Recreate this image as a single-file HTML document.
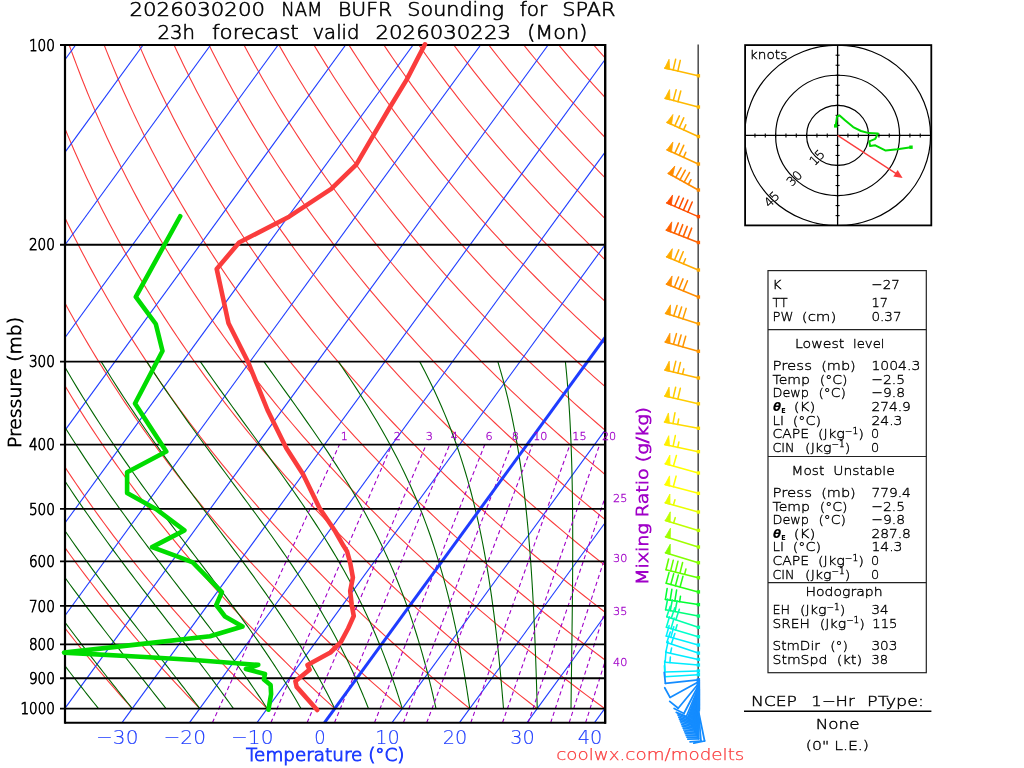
<!DOCTYPE html>
<html lang="en"><head><meta charset="utf-8"><title>NAM BUFR Sounding for SPAR</title>
<style>html,body{margin:0;padding:0;background:#fff;overflow:hidden}svg{display:block;will-change:transform}</style></head>
<body>
<svg width="1024" height="768" viewBox="0 0 1024 768" font-family="'DejaVu Sans Light', 'DejaVu Sans', 'Liberation Sans', sans-serif">
<rect width="1024" height="768" fill="#fff"/>
<defs><clipPath id="box"><rect x="65" y="45" width="540" height="677.66"/></clipPath>
<clipPath id="box2"><rect x="61" y="45" width="544" height="677.66"/></clipPath></defs>
<g clip-path="url(#box)" stroke-linecap="butt">
<polyline points="132.25,708.6 126.32,701.96 120.46,695.33 114.68,688.69 108.96,682.06 103.31,675.42 97.73,668.78 92.22,662.15 86.78,655.51 81.4,648.88 76.09,642.24 70.85,635.6 65.67,628.97 60.56,622.33 55.51,615.7 50.53,609.06 45.62,602.42 40.76,595.79 35.98,589.15 31.25,582.52 26.59,575.88 21.98,569.24 17.44,562.61 12.97,555.97 8.55,549.34 4.19,542.7 -0.1,536.06 -4.34,529.43 -8.51,522.79 -12.63,516.16 -16.69,509.52 -20.69,502.88 -24.63,496.25 -28.52,489.61 -32.35,482.98 -36.12,476.34 -39.83,469.7 -43.49,463.07 -47.09,456.43 -50.64,449.8 -54.13,443.16 -57.57,436.52 -60.96,429.89 -64.29,423.25 -67.56,416.62 -70.79,409.98 -73.96,403.34 -77.07,396.71 -80.14,390.07 -83.15,383.44 -86.12,376.8 -89.03,370.16 -91.89,363.53 -94.7,356.89 -97.46,350.26 -100.17,343.62 -102.83,336.98 -105.44,330.35 -108,323.71 -110.52,317.08 -112.99,310.44 -115.4,303.8 -117.77,297.17 -120.1,290.53 -122.37,283.9 -124.6,277.26 -126.79,270.62 -128.93,263.99 -131.02,257.35 -133.06,250.72 -135.07,244.08 -137.02,237.44 -138.93,230.81 -140.8,224.17 -142.63,217.54 -144.41,210.9 -146.14,204.26 -147.84,197.63 -149.49,190.99 -151.1,184.36 -152.66,177.72 -154.19,171.08 -155.67,164.45 -157.11,157.81 -158.51,151.18 -159.87,144.54 -161.19,137.9 -162.47,131.27 -163.7,124.63 -164.9,118 -166.06,111.36 -167.18,104.72 -168.26,98.09 -169.3,91.45 -170.31,84.82 -171.27,78.18 -172.2,71.54 -173.09,64.91 -173.94,58.27 -174.75,51.64 -175.53,45" fill="none" stroke="#fa3c3c" stroke-width="1.1" />
<polyline points="199.75,708.6 193.38,701.96 187.08,695.33 180.86,688.69 174.71,682.06 168.63,675.42 162.62,668.78 156.68,662.15 150.82,655.51 145.02,648.88 139.29,642.24 133.64,635.6 128.05,628.97 122.53,622.33 117.08,615.7 111.69,609.06 106.37,602.42 101.12,595.79 95.94,589.15 90.82,582.52 85.76,575.88 80.77,569.24 75.85,562.61 70.99,555.97 66.19,549.34 61.46,542.7 56.79,536.06 52.18,529.43 47.63,522.79 43.14,516.16 38.72,509.52 34.36,502.88 30.05,496.25 25.81,489.61 21.62,482.98 17.5,476.34 13.43,469.7 9.43,463.07 5.48,456.43 1.58,449.8 -2.25,443.16 -6.03,436.52 -9.75,429.89 -13.42,423.25 -17.03,416.62 -20.58,409.98 -24.08,403.34 -27.53,396.71 -30.92,390.07 -34.25,383.44 -37.54,376.8 -40.77,370.16 -43.94,363.53 -47.07,356.89 -50.14,350.26 -53.16,343.62 -56.13,336.98 -59.05,330.35 -61.92,323.71 -64.73,317.08 -67.5,310.44 -70.22,303.8 -72.88,297.17 -75.5,290.53 -78.07,283.9 -80.59,277.26 -83.06,270.62 -85.49,263.99 -87.86,257.35 -90.19,250.72 -92.48,244.08 -94.71,237.44 -96.9,230.81 -99.04,224.17 -101.14,217.54 -103.19,210.9 -105.2,204.26 -107.16,197.63 -109.08,190.99 -110.95,184.36 -112.78,177.72 -114.57,171.08 -116.31,164.45 -118.01,157.81 -119.67,151.18 -121.28,144.54 -122.85,137.9 -124.38,131.27 -125.87,124.63 -127.32,118 -128.72,111.36 -130.09,104.72 -131.41,98.09 -132.69,91.45 -133.94,84.82 -135.14,78.18 -136.3,71.54 -137.43,64.91 -138.51,58.27 -139.56,51.64 -140.57,45" fill="none" stroke="#fa3c3c" stroke-width="1.1" />
<polyline points="267.25,708.6 260.44,701.96 253.7,695.33 247.04,688.69 240.45,682.06 233.94,675.42 227.51,668.78 221.14,662.15 214.86,655.51 208.64,648.88 202.5,642.24 196.42,635.6 190.42,628.97 184.5,622.33 178.64,615.7 172.85,609.06 167.13,602.42 161.48,595.79 155.9,589.15 150.39,582.52 144.94,575.88 139.57,569.24 134.25,562.61 129.01,555.97 123.83,549.34 118.72,542.7 113.67,536.06 108.69,529.43 103.77,522.79 98.92,516.16 94.13,509.52 89.4,502.88 84.74,496.25 80.14,489.61 75.6,482.98 71.12,476.34 66.7,469.7 62.34,463.07 58.05,456.43 53.81,449.8 49.63,443.16 45.51,436.52 41.45,429.89 37.45,423.25 33.51,416.62 29.62,409.98 25.79,403.34 22.02,396.71 18.31,390.07 14.65,383.44 11.04,376.8 7.49,370.16 4,363.53 0.56,356.89 -2.82,350.26 -6.15,343.62 -9.43,336.98 -12.66,330.35 -15.83,323.71 -18.95,317.08 -22.01,310.44 -25.03,303.8 -27.99,297.17 -30.9,290.53 -33.76,283.9 -36.57,277.26 -39.34,270.62 -42.05,263.99 -44.71,257.35 -47.32,250.72 -49.88,244.08 -52.4,237.44 -54.87,230.81 -57.29,224.17 -59.66,217.54 -61.98,210.9 -64.26,204.26 -66.49,197.63 -68.67,190.99 -70.81,184.36 -72.9,177.72 -74.95,171.08 -76.95,164.45 -78.91,157.81 -80.82,151.18 -82.69,144.54 -84.52,137.9 -86.3,131.27 -88.04,124.63 -89.73,118 -91.38,111.36 -92.99,104.72 -94.56,98.09 -96.08,91.45 -97.57,84.82 -99.01,78.18 -100.41,71.54 -101.77,64.91 -103.09,58.27 -104.37,51.64 -105.61,45" fill="none" stroke="#fa3c3c" stroke-width="1.1" />
<polyline points="334.75,708.6 327.49,701.96 320.32,695.33 313.22,688.69 306.2,682.06 299.26,675.42 292.39,668.78 285.61,662.15 278.9,655.51 272.26,648.88 265.7,642.24 259.21,635.6 252.8,628.97 246.46,622.33 240.2,615.7 234.01,609.06 227.89,602.42 221.84,595.79 215.86,589.15 209.96,582.52 204.12,575.88 198.36,569.24 192.66,562.61 187.03,555.97 181.47,549.34 175.98,542.7 170.56,536.06 165.21,529.43 159.92,522.79 154.7,516.16 149.54,509.52 144.45,502.88 139.43,496.25 134.46,489.61 129.57,482.98 124.74,476.34 119.97,469.7 115.26,463.07 110.62,456.43 106.03,449.8 101.51,443.16 97.06,436.52 92.66,429.89 88.32,423.25 84.04,416.62 79.83,409.98 75.67,403.34 71.57,396.71 67.53,390.07 63.55,383.44 59.62,376.8 55.75,370.16 51.94,363.53 48.19,356.89 44.49,350.26 40.85,343.62 37.27,336.98 33.74,330.35 30.26,323.71 26.84,317.08 23.47,310.44 20.16,303.8 16.9,297.17 13.7,290.53 10.54,283.9 7.44,277.26 4.39,270.62 1.39,263.99 -1.55,257.35 -4.45,250.72 -7.29,244.08 -10.09,237.44 -12.83,230.81 -15.53,224.17 -18.17,217.54 -20.77,210.9 -23.32,204.26 -25.82,197.63 -28.27,190.99 -30.67,184.36 -33.03,177.72 -35.33,171.08 -37.6,164.45 -39.81,157.81 -41.98,151.18 -44.1,144.54 -46.18,137.9 -48.21,131.27 -50.2,124.63 -52.14,118 -54.04,111.36 -55.9,104.72 -57.71,98.09 -59.47,91.45 -61.2,84.82 -62.88,78.18 -64.51,71.54 -66.11,64.91 -67.66,58.27 -69.17,51.64 -70.64,45" fill="none" stroke="#fa3c3c" stroke-width="1.1" />
<polyline points="402.25,708.6 394.55,701.96 386.94,695.33 379.4,688.69 371.95,682.06 364.57,675.42 357.28,668.78 350.07,662.15 342.93,655.51 335.88,648.88 328.9,642.24 322,635.6 315.18,628.97 308.43,622.33 301.76,615.7 295.16,609.06 288.64,602.42 282.2,595.79 275.82,589.15 269.53,582.52 263.3,575.88 257.15,569.24 251.06,562.61 245.05,555.97 239.12,549.34 233.25,542.7 227.45,536.06 221.72,529.43 216.06,522.79 210.47,516.16 204.95,509.52 199.5,502.88 194.11,496.25 188.79,489.61 183.54,482.98 178.35,476.34 173.23,469.7 168.18,463.07 163.19,456.43 158.26,449.8 153.4,443.16 148.6,436.52 143.86,429.89 139.19,423.25 134.58,416.62 130.03,409.98 125.54,403.34 121.12,396.71 116.75,390.07 112.45,383.44 108.2,376.8 104.02,370.16 99.89,363.53 95.82,356.89 91.81,350.26 87.86,343.62 83.97,336.98 80.13,330.35 76.35,323.71 72.63,317.08 68.96,310.44 65.35,303.8 61.79,297.17 58.29,290.53 54.85,283.9 51.45,277.26 48.12,270.62 44.83,263.99 41.6,257.35 38.42,250.72 35.3,244.08 32.22,237.44 29.2,230.81 26.23,224.17 23.31,217.54 20.44,210.9 17.63,204.26 14.86,197.63 12.14,190.99 9.47,184.36 6.85,177.72 4.28,171.08 1.76,164.45 -0.71,157.81 -3.14,151.18 -5.52,144.54 -7.85,137.9 -10.13,131.27 -12.37,124.63 -14.56,118 -16.7,111.36 -18.8,104.72 -20.85,98.09 -22.86,91.45 -24.83,84.82 -26.74,78.18 -28.62,71.54 -30.45,64.91 -32.24,58.27 -33.98,51.64 -35.68,45" fill="none" stroke="#fa3c3c" stroke-width="1.1" />
<polyline points="469.75,708.6 461.61,701.96 453.55,695.33 445.58,688.69 437.69,682.06 429.89,675.42 422.17,668.78 414.53,662.15 406.97,655.51 399.5,648.88 392.1,642.24 384.79,635.6 377.55,628.97 370.4,622.33 363.32,615.7 356.32,609.06 349.4,602.42 342.55,595.79 335.79,589.15 329.09,582.52 322.48,575.88 315.94,569.24 309.47,562.61 303.08,555.97 296.76,549.34 290.51,542.7 284.34,536.06 278.24,529.43 272.21,522.79 266.25,516.16 260.36,509.52 254.55,502.88 248.8,496.25 243.12,489.61 237.51,482.98 231.97,476.34 226.5,469.7 221.09,463.07 215.76,456.43 210.48,449.8 205.28,443.16 200.14,436.52 195.07,429.89 190.06,423.25 185.11,416.62 180.23,409.98 175.42,403.34 170.66,396.71 165.97,390.07 161.35,383.44 156.78,376.8 152.28,370.16 147.83,363.53 143.45,356.89 139.13,350.26 134.87,343.62 130.67,336.98 126.52,330.35 122.44,323.71 118.42,317.08 114.45,310.44 110.54,303.8 106.69,297.17 102.89,290.53 99.15,283.9 95.47,277.26 91.84,270.62 88.27,263.99 84.76,257.35 81.29,250.72 77.89,244.08 74.53,237.44 71.24,230.81 67.99,224.17 64.8,217.54 61.66,210.9 58.57,204.26 55.53,197.63 52.55,190.99 49.61,184.36 46.73,177.72 43.9,171.08 41.12,164.45 38.39,157.81 35.71,151.18 33.07,144.54 30.49,137.9 27.95,131.27 25.47,124.63 23.03,118 20.64,111.36 18.29,104.72 16,98.09 13.75,91.45 11.54,84.82 9.39,78.18 7.28,71.54 5.21,64.91 3.19,58.27 1.21,51.64 -0.72,45" fill="none" stroke="#fa3c3c" stroke-width="1.1" />
<polyline points="537.25,708.6 528.67,701.96 520.17,695.33 511.76,688.69 503.44,682.06 495.21,675.42 487.06,668.78 478.99,662.15 471.01,655.51 463.12,648.88 455.31,642.24 447.58,635.6 439.93,628.97 432.36,622.33 424.88,615.7 417.48,609.06 410.16,602.42 402.91,595.79 395.75,589.15 388.66,582.52 381.66,575.88 374.73,569.24 367.87,562.61 361.1,555.97 354.4,549.34 347.78,542.7 341.23,536.06 334.75,529.43 328.35,522.79 322.03,516.16 315.77,509.52 309.59,502.88 303.48,496.25 297.45,489.61 291.48,482.98 285.59,476.34 279.76,469.7 274.01,463.07 268.33,456.43 262.71,449.8 257.16,443.16 251.68,436.52 246.27,429.89 240.93,423.25 235.65,416.62 230.44,409.98 225.29,403.34 220.21,396.71 215.2,390.07 210.25,383.44 205.36,376.8 200.54,370.16 195.78,363.53 191.08,356.89 186.45,350.26 181.88,343.62 177.37,336.98 172.92,330.35 168.53,323.71 164.2,317.08 159.93,310.44 155.73,303.8 151.58,297.17 147.49,290.53 143.46,283.9 139.48,277.26 135.57,270.62 131.71,263.99 127.91,257.35 124.17,250.72 120.48,244.08 116.85,237.44 113.27,230.81 109.75,224.17 106.28,217.54 102.87,210.9 99.51,204.26 96.21,197.63 92.95,190.99 89.76,184.36 86.61,177.72 83.52,171.08 80.48,164.45 77.49,157.81 74.55,151.18 71.66,144.54 68.82,137.9 66.04,131.27 63.3,124.63 60.62,118 57.98,111.36 55.39,104.72 52.85,98.09 50.36,91.45 47.91,84.82 45.52,78.18 43.17,71.54 40.87,64.91 38.61,58.27 36.41,51.64 34.25,45" fill="none" stroke="#fa3c3c" stroke-width="1.1" />
<polyline points="604.75,708.6 595.72,701.96 586.79,695.33 577.94,688.69 569.19,682.06 560.52,675.42 551.94,668.78 543.46,662.15 535.05,655.51 526.74,648.88 518.51,642.24 510.36,635.6 502.31,628.97 494.33,622.33 486.44,615.7 478.64,609.06 470.91,602.42 463.27,595.79 455.71,589.15 448.23,582.52 440.83,575.88 433.52,569.24 426.28,562.61 419.12,555.97 412.04,549.34 405.04,542.7 398.11,536.06 391.27,529.43 384.5,522.79 377.8,516.16 371.18,509.52 364.64,502.88 358.17,496.25 351.78,489.61 345.45,482.98 339.21,476.34 333.03,469.7 326.93,463.07 320.9,456.43 314.93,449.8 309.05,443.16 303.23,436.52 297.48,429.89 291.8,423.25 286.18,416.62 280.64,409.98 275.17,403.34 269.76,396.71 264.42,390.07 259.15,383.44 253.94,376.8 248.8,370.16 243.72,363.53 238.71,356.89 233.77,350.26 228.88,343.62 224.07,336.98 219.31,330.35 214.62,323.71 209.99,317.08 205.42,310.44 200.92,303.8 196.47,297.17 192.09,290.53 187.76,283.9 183.5,277.26 179.3,270.62 175.15,263.99 171.06,257.35 167.04,250.72 163.07,244.08 159.16,237.44 155.3,230.81 151.51,224.17 147.77,217.54 144.08,210.9 140.45,204.26 136.88,197.63 133.36,190.99 129.9,184.36 126.49,177.72 123.14,171.08 119.83,164.45 116.59,157.81 113.39,151.18 110.25,144.54 107.16,137.9 104.12,131.27 101.14,124.63 98.2,118 95.32,111.36 92.48,104.72 89.7,98.09 86.97,91.45 84.28,84.82 81.65,78.18 79.07,71.54 76.53,64.91 74.04,58.27 71.6,51.64 69.21,45" fill="none" stroke="#fa3c3c" stroke-width="1.1" />
<polyline points="672.25,708.6 662.78,701.96 653.41,695.33 644.12,688.69 634.94,682.06 625.84,675.42 616.83,668.78 607.92,662.15 599.09,655.51 590.36,648.88 581.71,642.24 573.15,635.6 564.68,628.97 556.3,622.33 548,615.7 539.79,609.06 531.67,602.42 523.63,595.79 515.67,589.15 507.8,582.52 500.01,575.88 492.31,569.24 484.68,562.61 477.14,555.97 469.68,549.34 462.3,542.7 455,536.06 447.78,529.43 440.64,522.79 433.58,516.16 426.59,509.52 419.69,502.88 412.86,496.25 406.1,489.61 399.43,482.98 392.82,476.34 386.3,469.7 379.84,463.07 373.47,456.43 367.16,449.8 360.93,443.16 354.77,436.52 348.68,429.89 342.67,423.25 336.72,416.62 330.85,409.98 325.04,403.34 319.31,396.71 313.64,390.07 308.05,383.44 302.52,376.8 297.06,370.16 291.67,363.53 286.34,356.89 281.08,350.26 275.89,343.62 270.77,336.98 265.7,330.35 260.71,323.71 255.78,317.08 250.91,310.44 246.1,303.8 241.36,297.17 236.68,290.53 232.07,283.9 227.51,277.26 223.02,270.62 218.59,263.99 214.22,257.35 209.91,250.72 205.66,244.08 201.47,237.44 197.34,230.81 193.26,224.17 189.25,217.54 185.29,210.9 181.39,204.26 177.55,197.63 173.77,190.99 170.04,184.36 166.37,177.72 162.75,171.08 159.19,164.45 155.69,157.81 152.24,151.18 148.84,144.54 145.5,137.9 142.21,131.27 138.97,124.63 135.79,118 132.66,111.36 129.58,104.72 126.55,98.09 123.58,91.45 120.66,84.82 117.78,78.18 114.96,71.54 112.19,64.91 109.47,58.27 106.79,51.64 104.17,45" fill="none" stroke="#fa3c3c" stroke-width="1.1" />
<polyline points="739.75,708.6 729.84,701.96 720.02,695.33 710.31,688.69 700.68,682.06 691.15,675.42 681.72,668.78 672.38,662.15 663.13,655.51 653.98,648.88 644.91,642.24 635.94,635.6 627.06,628.97 618.27,622.33 609.56,615.7 600.95,609.06 592.42,602.42 583.99,595.79 575.64,589.15 567.37,582.52 559.19,575.88 551.1,569.24 543.09,562.61 535.17,555.97 527.32,549.34 519.57,542.7 511.89,536.06 504.3,529.43 496.79,522.79 489.36,516.16 482.01,509.52 474.74,502.88 467.54,496.25 460.43,489.61 453.4,482.98 446.44,476.34 439.56,469.7 432.76,463.07 426.04,456.43 419.39,449.8 412.81,443.16 406.31,436.52 399.89,429.89 393.53,423.25 387.26,416.62 381.05,409.98 374.92,403.34 368.86,396.71 362.87,390.07 356.95,383.44 351.1,376.8 345.32,370.16 339.61,363.53 333.97,356.89 328.4,350.26 322.9,343.62 317.46,336.98 312.1,330.35 306.8,323.71 301.56,317.08 296.39,310.44 291.29,303.8 286.25,297.17 281.28,290.53 276.37,283.9 271.53,277.26 266.75,270.62 262.03,263.99 257.37,257.35 252.78,250.72 248.25,244.08 243.78,237.44 239.37,230.81 235.02,224.17 230.73,217.54 226.51,210.9 222.34,204.26 218.23,197.63 214.18,190.99 210.18,184.36 206.25,177.72 202.37,171.08 198.55,164.45 194.79,157.81 191.08,151.18 187.43,144.54 183.83,137.9 180.29,131.27 176.81,124.63 173.37,118 170,111.36 166.67,104.72 163.41,98.09 160.19,91.45 157.03,84.82 153.91,78.18 150.85,71.54 147.85,64.91 144.89,58.27 141.99,51.64 139.13,45" fill="none" stroke="#fa3c3c" stroke-width="1.1" />
<polyline points="807.25,708.6 796.9,701.96 786.64,695.33 776.49,688.69 766.43,682.06 756.47,675.42 746.61,668.78 736.84,662.15 727.17,655.51 717.6,648.88 708.12,642.24 698.73,635.6 689.43,628.97 680.23,622.33 671.13,615.7 662.11,609.06 653.18,602.42 644.34,595.79 635.6,589.15 626.94,582.52 618.37,575.88 609.89,569.24 601.49,562.61 593.19,555.97 584.97,549.34 576.83,542.7 568.78,536.06 560.81,529.43 552.93,522.79 545.13,516.16 537.42,509.52 529.78,502.88 522.23,496.25 514.76,489.61 507.37,482.98 500.06,476.34 492.83,469.7 485.68,463.07 478.61,456.43 471.61,449.8 464.69,443.16 457.85,436.52 451.09,429.89 444.4,423.25 437.79,416.62 431.25,409.98 424.79,403.34 418.4,396.71 412.09,390.07 405.85,383.44 399.68,376.8 393.58,370.16 387.56,363.53 381.6,356.89 375.72,350.26 369.91,343.62 364.16,336.98 358.49,330.35 352.89,323.71 347.35,317.08 341.88,310.44 336.48,303.8 331.15,297.17 325.88,290.53 320.68,283.9 315.54,277.26 310.47,270.62 305.47,263.99 300.53,257.35 295.65,250.72 290.84,244.08 286.09,237.44 281.4,230.81 276.78,224.17 272.22,217.54 267.72,210.9 263.28,204.26 258.9,197.63 254.58,190.99 250.33,184.36 246.13,177.72 241.99,171.08 237.91,164.45 233.89,157.81 229.92,151.18 226.02,144.54 222.17,137.9 218.38,131.27 214.64,124.63 210.96,118 207.34,111.36 203.77,104.72 200.26,98.09 196.8,91.45 193.4,84.82 190.05,78.18 186.75,71.54 183.51,64.91 180.32,58.27 177.18,51.64 174.1,45" fill="none" stroke="#fa3c3c" stroke-width="1.1" />
<polyline points="874.75,708.6 863.95,701.96 853.26,695.33 842.67,688.69 832.18,682.06 821.79,675.42 811.5,668.78 801.3,662.15 791.21,655.51 781.22,648.88 771.32,642.24 761.52,635.6 751.81,628.97 742.2,622.33 732.69,615.7 723.26,609.06 713.94,602.42 704.7,595.79 695.56,589.15 686.51,582.52 677.55,575.88 668.68,569.24 659.9,562.61 651.21,555.97 642.61,549.34 634.09,542.7 625.67,536.06 617.33,529.43 609.08,522.79 600.91,516.16 592.83,509.52 584.83,502.88 576.92,496.25 569.09,489.61 561.34,482.98 553.68,476.34 546.1,469.7 538.59,463.07 531.18,456.43 523.84,449.8 516.58,443.16 509.4,436.52 502.3,429.89 495.27,423.25 488.33,416.62 481.46,409.98 474.67,403.34 467.95,396.71 461.31,390.07 454.75,383.44 448.26,376.8 441.84,370.16 435.5,363.53 429.23,356.89 423.04,350.26 416.91,343.62 410.86,336.98 404.88,330.35 398.97,323.71 393.14,317.08 387.37,310.44 381.67,303.8 376.04,297.17 370.48,290.53 364.98,283.9 359.56,277.26 354.2,270.62 348.91,263.99 343.68,257.35 338.52,250.72 333.43,244.08 328.4,237.44 323.44,230.81 318.54,224.17 313.7,217.54 308.93,210.9 304.22,204.26 299.57,197.63 294.99,190.99 290.47,184.36 286.01,177.72 281.61,171.08 277.27,164.45 272.99,157.81 268.77,151.18 264.6,144.54 260.5,137.9 256.46,131.27 252.47,124.63 248.55,118 244.68,111.36 240.86,104.72 237.11,98.09 233.41,91.45 229.77,84.82 226.18,78.18 222.64,71.54 219.17,64.91 215.74,58.27 212.37,51.64 209.06,45" fill="none" stroke="#fa3c3c" stroke-width="1.1" />
<polyline points="942.25,708.6 931.01,701.96 919.88,695.33 908.85,688.69 897.92,682.06 887.1,675.42 876.38,668.78 865.77,662.15 855.25,655.51 844.84,648.88 834.52,642.24 824.3,635.6 814.19,628.97 804.17,622.33 794.25,615.7 784.42,609.06 774.69,602.42 765.06,595.79 755.52,589.15 746.08,582.52 736.73,575.88 727.47,569.24 718.3,562.61 709.23,555.97 700.25,549.34 691.36,542.7 682.56,536.06 673.84,529.43 665.22,522.79 656.69,516.16 648.24,509.52 639.88,502.88 631.6,496.25 623.42,489.61 615.31,482.98 607.3,476.34 599.36,469.7 591.51,463.07 583.75,456.43 576.06,449.8 568.46,443.16 560.94,436.52 553.5,429.89 546.14,423.25 538.86,416.62 531.66,409.98 524.54,403.34 517.5,396.71 510.54,390.07 503.65,383.44 496.84,376.8 490.1,370.16 483.45,363.53 476.86,356.89 470.36,350.26 463.92,343.62 457.56,336.98 451.28,330.35 445.06,323.71 438.92,317.08 432.85,310.44 426.86,303.8 420.93,297.17 415.07,290.53 409.29,283.9 403.57,277.26 397.93,270.62 392.35,263.99 386.84,257.35 381.4,250.72 376.02,244.08 370.71,237.44 365.47,230.81 360.3,224.17 355.19,217.54 350.14,210.9 345.16,204.26 340.25,197.63 335.4,190.99 330.61,184.36 325.88,177.72 321.22,171.08 316.62,164.45 312.08,157.81 307.61,151.18 303.19,144.54 298.84,137.9 294.54,131.27 290.31,124.63 286.13,118 282.02,111.36 277.96,104.72 273.96,98.09 270.02,91.45 266.14,84.82 262.31,78.18 258.54,71.54 254.83,64.91 251.17,58.27 247.57,51.64 244.02,45" fill="none" stroke="#fa3c3c" stroke-width="1.1" />
<polyline points="1009.75,708.6 998.07,701.96 986.5,695.33 975.03,688.69 963.67,682.06 952.42,675.42 941.27,668.78 930.23,662.15 919.29,655.51 908.45,648.88 897.72,642.24 887.09,635.6 876.56,628.97 866.14,622.33 855.81,615.7 845.58,609.06 835.45,602.42 825.42,595.79 815.48,589.15 805.65,582.52 795.91,575.88 786.26,569.24 776.71,562.61 767.25,555.97 757.89,549.34 748.62,542.7 739.44,536.06 730.36,529.43 721.36,522.79 712.46,516.16 703.65,509.52 694.92,502.88 686.29,496.25 677.74,489.61 669.28,482.98 660.91,476.34 652.63,469.7 644.43,463.07 636.32,456.43 628.29,449.8 620.34,443.16 612.48,436.52 604.7,429.89 597.01,423.25 589.4,416.62 581.87,409.98 574.42,403.34 567.05,396.71 559.76,390.07 552.55,383.44 545.42,376.8 538.37,370.16 531.39,363.53 524.49,356.89 517.67,350.26 510.93,343.62 504.26,336.98 497.67,330.35 491.15,323.71 484.71,317.08 478.34,310.44 472.05,303.8 465.82,297.17 459.67,290.53 453.59,283.9 447.59,277.26 441.65,270.62 435.79,263.99 429.99,257.35 424.27,250.72 418.61,244.08 413.03,237.44 407.51,230.81 402.06,224.17 396.67,217.54 391.36,210.9 386.11,204.26 380.92,197.63 375.8,190.99 370.75,184.36 365.76,177.72 360.84,171.08 355.98,164.45 351.18,157.81 346.45,151.18 341.78,144.54 337.17,137.9 332.63,131.27 328.14,124.63 323.72,118 319.36,111.36 315.06,104.72 310.81,98.09 306.63,91.45 302.51,84.82 298.44,78.18 294.43,71.54 290.49,64.91 286.59,58.27 282.76,51.64 278.98,45" fill="none" stroke="#fa3c3c" stroke-width="1.1" />
<polyline points="1077.25,708.6 1065.13,701.96 1053.11,695.33 1041.21,688.69 1029.42,682.06 1017.73,675.42 1006.16,668.78 994.69,662.15 983.33,655.51 972.07,648.88 960.93,642.24 949.88,635.6 938.94,628.97 928.1,622.33 917.37,615.7 906.74,609.06 896.21,602.42 885.78,595.79 875.45,589.15 865.22,582.52 855.08,575.88 845.05,569.24 835.11,562.61 825.28,555.97 815.53,549.34 805.88,542.7 796.33,536.06 786.87,529.43 777.51,522.79 768.24,516.16 759.06,509.52 749.97,502.88 740.98,496.25 732.07,489.61 723.26,482.98 714.53,476.34 705.89,469.7 697.35,463.07 688.89,456.43 680.51,449.8 672.23,443.16 664.02,436.52 655.91,429.89 647.88,423.25 639.93,416.62 632.07,409.98 624.29,403.34 616.6,396.71 608.98,390.07 601.45,383.44 594,376.8 586.63,370.16 579.34,363.53 572.12,356.89 564.99,350.26 557.94,343.62 550.96,336.98 544.06,330.35 537.24,323.71 530.5,317.08 523.83,310.44 517.23,303.8 510.71,297.17 504.27,290.53 497.9,283.9 491.6,277.26 485.38,270.62 479.23,263.99 473.15,257.35 467.14,250.72 461.2,244.08 455.34,237.44 449.54,230.81 443.81,224.17 438.16,217.54 432.57,210.9 427.05,204.26 421.6,197.63 416.21,190.99 410.89,184.36 405.64,177.72 400.46,171.08 395.34,164.45 390.28,157.81 385.29,151.18 380.37,144.54 375.51,137.9 370.71,131.27 365.98,124.63 361.31,118 356.7,111.36 352.15,104.72 347.66,98.09 343.24,91.45 338.88,84.82 334.57,78.18 330.33,71.54 326.14,64.91 322.02,58.27 317.95,51.64 313.95,45" fill="none" stroke="#fa3c3c" stroke-width="1.1" />
<polyline points="1144.75,708.6 1132.18,701.96 1119.73,695.33 1107.39,688.69 1095.16,682.06 1083.05,675.42 1071.05,668.78 1059.15,662.15 1047.37,655.51 1035.69,648.88 1024.13,642.24 1012.67,635.6 1001.32,628.97 990.07,622.33 978.93,615.7 967.89,609.06 956.96,602.42 946.13,595.79 935.41,589.15 924.78,582.52 914.26,575.88 903.84,569.24 893.52,562.61 883.3,555.97 873.17,549.34 863.15,542.7 853.22,536.06 843.39,529.43 833.65,522.79 824.01,516.16 814.47,509.52 805.02,502.88 795.66,496.25 786.4,489.61 777.23,482.98 768.15,476.34 759.16,469.7 750.26,463.07 741.46,456.43 732.74,449.8 724.11,443.16 715.57,436.52 707.11,429.89 698.75,423.25 690.47,416.62 682.27,409.98 674.17,403.34 666.14,396.71 658.2,390.07 650.35,383.44 642.58,376.8 634.89,370.16 627.28,363.53 619.75,356.89 612.31,350.26 604.95,343.62 597.66,336.98 590.46,330.35 583.33,323.71 576.28,317.08 569.31,310.44 562.42,303.8 555.61,297.17 548.87,290.53 542.21,283.9 535.62,277.26 529.1,270.62 522.67,263.99 516.3,257.35 510.01,250.72 503.79,244.08 497.65,237.44 491.57,230.81 485.57,224.17 479.64,217.54 473.78,210.9 467.99,204.26 462.27,197.63 456.62,190.99 451.04,184.36 445.52,177.72 440.08,171.08 434.7,164.45 429.38,157.81 424.14,151.18 418.96,144.54 413.84,137.9 408.8,131.27 403.81,124.63 398.89,118 394.04,111.36 389.25,104.72 384.52,98.09 379.85,91.45 375.25,84.82 370.7,78.18 366.22,71.54 361.8,64.91 357.45,58.27 353.15,51.64 348.91,45" fill="none" stroke="#fa3c3c" stroke-width="1.1" />
<polyline points="1212.25,708.6 1199.24,701.96 1186.35,695.33 1173.57,688.69 1160.91,682.06 1148.37,675.42 1135.93,668.78 1123.61,662.15 1111.41,655.51 1099.31,648.88 1087.33,642.24 1075.46,635.6 1063.69,628.97 1052.04,622.33 1040.49,615.7 1029.05,609.06 1017.72,602.42 1006.49,595.79 995.37,589.15 984.35,582.52 973.44,575.88 962.63,569.24 951.92,562.61 941.32,555.97 930.82,549.34 920.41,542.7 910.11,536.06 899.9,529.43 889.8,522.79 879.79,516.16 869.88,509.52 860.07,502.88 850.35,496.25 840.73,489.61 831.2,482.98 821.77,476.34 812.43,469.7 803.18,463.07 794.03,456.43 784.96,449.8 775.99,443.16 767.11,436.52 758.32,429.89 749.62,423.25 741,416.62 732.48,409.98 724.04,403.34 715.69,396.71 707.43,390.07 699.25,383.44 691.16,376.8 683.15,370.16 675.22,363.53 667.38,356.89 659.63,350.26 651.95,343.62 644.36,336.98 636.85,330.35 629.42,323.71 622.07,317.08 614.8,310.44 607.61,303.8 600.5,297.17 593.47,290.53 586.51,283.9 579.63,277.26 572.83,270.62 566.11,263.99 559.46,257.35 552.88,250.72 546.38,244.08 539.96,237.44 533.61,230.81 527.33,224.17 521.13,217.54 514.99,210.9 508.93,204.26 502.94,197.63 497.03,190.99 491.18,184.36 485.4,177.72 479.69,171.08 474.05,164.45 468.48,157.81 462.98,151.18 457.55,144.54 452.18,137.9 446.88,131.27 441.65,124.63 436.48,118 431.38,111.36 426.34,104.72 421.37,98.09 416.46,91.45 411.62,84.82 406.84,78.18 402.12,71.54 397.46,64.91 392.87,58.27 388.34,51.64 383.87,45" fill="none" stroke="#fa3c3c" stroke-width="1.1" />
<polyline points="1279.75,708.6 1266.3,701.96 1252.97,695.33 1239.75,688.69 1226.66,682.06 1213.68,675.42 1200.82,668.78 1188.08,662.15 1175.45,655.51 1162.93,648.88 1150.53,642.24 1138.24,635.6 1126.07,628.97 1114.01,622.33 1102.05,615.7 1090.21,609.06 1078.48,602.42 1066.85,595.79 1055.33,589.15 1043.92,582.52 1032.62,575.88 1021.42,569.24 1010.33,562.61 999.34,555.97 988.46,549.34 977.68,542.7 967,536.06 956.42,529.43 945.94,522.79 935.57,516.16 925.29,509.52 915.11,502.88 905.04,496.25 895.05,489.61 885.17,482.98 875.38,476.34 865.69,469.7 856.1,463.07 846.6,456.43 837.19,449.8 827.87,443.16 818.65,436.52 809.52,429.89 800.49,423.25 791.54,416.62 782.68,409.98 773.92,403.34 765.24,396.71 756.65,390.07 748.15,383.44 739.74,376.8 731.41,370.16 723.17,363.53 715.01,356.89 706.95,350.26 698.96,343.62 691.06,336.98 683.24,330.35 675.51,323.71 667.86,317.08 660.29,310.44 652.8,303.8 645.39,297.17 638.06,290.53 630.82,283.9 623.65,277.26 616.56,270.62 609.55,263.99 602.61,257.35 595.75,250.72 588.97,244.08 582.27,237.44 575.64,230.81 569.09,224.17 562.61,217.54 556.21,210.9 549.88,204.26 543.62,197.63 537.43,190.99 531.32,184.36 525.28,177.72 519.31,171.08 513.41,164.45 507.58,157.81 501.82,151.18 496.14,144.54 490.52,137.9 484.96,131.27 479.48,124.63 474.07,118 468.72,111.36 463.44,104.72 458.22,98.09 453.07,91.45 447.99,84.82 442.97,78.18 438.01,71.54 433.12,64.91 428.3,58.27 423.53,51.64 418.83,45" fill="none" stroke="#fa3c3c" stroke-width="1.1" />
<polyline points="1347.25,708.6 1333.36,701.96 1319.58,695.33 1305.93,688.69 1292.41,682.06 1279,675.42 1265.71,668.78 1252.54,662.15 1239.49,655.51 1226.55,648.88 1213.73,642.24 1201.03,635.6 1188.45,628.97 1175.97,622.33 1163.61,615.7 1151.37,609.06 1139.23,602.42 1127.21,595.79 1115.3,589.15 1103.49,582.52 1091.8,575.88 1080.21,569.24 1068.73,562.61 1057.36,555.97 1046.1,549.34 1034.94,542.7 1023.88,536.06 1012.93,529.43 1002.09,522.79 991.34,516.16 980.7,509.52 970.16,502.88 959.72,496.25 949.38,489.61 939.14,482.98 929,476.34 918.96,469.7 909.01,463.07 899.17,456.43 889.41,449.8 879.76,443.16 870.2,436.52 860.73,429.89 851.35,423.25 842.07,416.62 832.89,409.98 823.79,403.34 814.79,396.71 805.87,390.07 797.05,383.44 788.32,376.8 779.67,370.16 771.11,363.53 762.65,356.89 754.26,350.26 745.97,343.62 737.76,336.98 729.64,330.35 721.6,323.71 713.64,317.08 705.77,310.44 697.99,303.8 690.28,297.17 682.66,290.53 675.12,283.9 667.66,277.26 660.28,270.62 652.99,263.99 645.77,257.35 638.63,250.72 631.57,244.08 624.58,237.44 617.68,230.81 610.85,224.17 604.09,217.54 597.42,210.9 590.82,204.26 584.29,197.63 577.84,190.99 571.46,184.36 565.16,177.72 558.93,171.08 552.77,164.45 546.68,157.81 540.67,151.18 534.72,144.54 528.85,137.9 523.05,131.27 517.32,124.63 511.65,118 506.06,111.36 500.53,104.72 495.07,98.09 489.68,91.45 484.36,84.82 479.1,78.18 473.91,71.54 468.78,64.91 463.72,58.27 458.73,51.64 453.8,45" fill="none" stroke="#fa3c3c" stroke-width="1.1" />
<polyline points="1414.75,708.6 1400.41,701.96 1386.2,695.33 1372.11,688.69 1358.15,682.06 1344.31,675.42 1330.6,668.78 1317,662.15 1303.53,655.51 1290.17,648.88 1276.94,642.24 1263.82,635.6 1250.82,628.97 1237.94,622.33 1225.17,615.7 1212.52,609.06 1199.99,602.42 1187.57,595.79 1175.26,589.15 1163.06,582.52 1150.98,575.88 1139,569.24 1127.14,562.61 1115.39,555.97 1103.74,549.34 1092.2,542.7 1080.77,536.06 1069.45,529.43 1058.23,522.79 1047.12,516.16 1036.11,509.52 1025.21,502.88 1014.41,496.25 1003.71,489.61 993.11,482.98 982.62,476.34 972.23,469.7 961.93,463.07 951.74,456.43 941.64,449.8 931.64,443.16 921.74,436.52 911.93,429.89 902.22,423.25 892.61,416.62 883.09,409.98 873.67,403.34 864.33,396.71 855.1,390.07 845.95,383.44 836.9,376.8 827.93,370.16 819.06,363.53 810.28,356.89 801.58,350.26 792.98,343.62 784.46,336.98 776.03,330.35 767.69,323.71 759.43,317.08 751.26,310.44 743.18,303.8 735.18,297.17 727.26,290.53 719.43,283.9 711.68,277.26 704.01,270.62 696.42,263.99 688.92,257.35 681.5,250.72 674.16,244.08 666.89,237.44 659.71,230.81 652.61,224.17 645.58,217.54 638.63,210.9 631.76,204.26 624.97,197.63 618.25,190.99 611.6,184.36 605.04,177.72 598.55,171.08 592.13,164.45 585.78,157.81 579.51,151.18 573.31,144.54 567.19,137.9 561.13,131.27 555.15,124.63 549.24,118 543.4,111.36 537.63,104.72 531.92,98.09 526.29,91.45 520.73,84.82 515.23,78.18 509.8,71.54 504.44,64.91 499.15,58.27 493.92,51.64 488.76,45" fill="none" stroke="#fa3c3c" stroke-width="1.1" />
<polyline points="1482.25,708.6 1467.47,701.96 1452.82,695.33 1438.3,688.69 1423.9,682.06 1409.63,675.42 1395.48,668.78 1381.46,662.15 1367.57,655.51 1353.79,648.88 1340.14,642.24 1326.61,635.6 1313.2,628.97 1299.91,622.33 1286.74,615.7 1273.68,609.06 1260.74,602.42 1247.92,595.79 1235.22,589.15 1222.63,582.52 1210.15,575.88 1197.79,569.24 1185.54,562.61 1173.41,555.97 1161.38,549.34 1149.47,542.7 1137.66,536.06 1125.96,529.43 1114.38,522.79 1102.9,516.16 1091.52,509.52 1080.26,502.88 1069.09,496.25 1058.04,489.61 1047.09,482.98 1036.24,476.34 1025.49,469.7 1014.85,463.07 1004.31,456.43 993.86,449.8 983.52,443.16 973.28,436.52 963.14,429.89 953.09,423.25 943.15,416.62 933.29,409.98 923.54,403.34 913.88,396.71 904.32,390.07 894.85,383.44 885.47,376.8 876.19,370.16 867,363.53 857.91,356.89 848.9,350.26 839.98,343.62 831.16,336.98 822.42,330.35 813.78,323.71 805.22,317.08 796.75,310.44 788.36,303.8 780.07,297.17 771.86,290.53 763.73,283.9 755.69,277.26 747.74,270.62 739.86,263.99 732.08,257.35 724.37,250.72 716.75,244.08 709.2,237.44 701.74,230.81 694.36,224.17 687.06,217.54 679.84,210.9 672.7,204.26 665.64,197.63 658.65,190.99 651.75,184.36 644.92,177.72 638.16,171.08 631.48,164.45 624.88,157.81 618.35,151.18 611.9,144.54 605.52,137.9 599.22,131.27 592.98,124.63 586.82,118 580.74,111.36 574.72,104.72 568.78,98.09 562.9,91.45 557.1,84.82 551.36,78.18 545.7,71.54 540.1,64.91 534.57,58.27 529.11,51.64 523.72,45" fill="none" stroke="#fa3c3c" stroke-width="1.1" />
<polyline points="1549.75,708.6 1534.53,701.96 1519.44,695.33 1504.48,688.69 1489.65,682.06 1474.94,675.42 1460.37,668.78 1445.93,662.15 1431.61,655.51 1417.41,648.88 1403.34,642.24 1389.4,635.6 1375.57,628.97 1361.87,622.33 1348.3,615.7 1334.84,609.06 1321.5,602.42 1308.28,595.79 1295.18,589.15 1282.2,582.52 1269.33,575.88 1256.58,569.24 1243.95,562.61 1231.43,555.97 1219.02,549.34 1206.73,542.7 1194.55,536.06 1182.48,529.43 1170.52,522.79 1158.67,516.16 1146.93,509.52 1135.3,502.88 1123.78,496.25 1112.37,489.61 1101.06,482.98 1089.86,476.34 1078.76,469.7 1067.76,463.07 1056.88,456.43 1046.09,449.8 1035.41,443.16 1024.82,436.52 1014.34,429.89 1003.96,423.25 993.68,416.62 983.5,409.98 973.42,403.34 963.43,396.71 953.54,390.07 943.75,383.44 934.05,376.8 924.45,370.16 914.95,363.53 905.54,356.89 896.22,350.26 886.99,343.62 877.86,336.98 868.82,330.35 859.87,323.71 851,317.08 842.23,310.44 833.55,303.8 824.96,297.17 816.45,290.53 808.04,283.9 799.71,277.26 791.46,270.62 783.3,263.99 775.23,257.35 767.24,250.72 759.34,244.08 751.52,237.44 743.78,230.81 736.12,224.17 728.55,217.54 721.06,210.9 713.64,204.26 706.31,197.63 699.06,190.99 691.89,184.36 684.8,177.72 677.78,171.08 670.84,164.45 663.98,157.81 657.2,151.18 650.49,144.54 643.86,137.9 637.3,131.27 630.82,124.63 624.41,118 618.08,111.36 611.82,104.72 605.63,98.09 599.51,91.45 593.47,84.82 587.49,78.18 581.59,71.54 575.76,64.91 570,58.27 564.31,51.64 558.68,45" fill="none" stroke="#fa3c3c" stroke-width="1.1" />
<polyline points="1617.25,708.6 1601.59,701.96 1586.05,695.33 1570.66,688.69 1555.39,682.06 1540.26,675.42 1525.26,668.78 1510.39,662.15 1495.65,655.51 1481.03,648.88 1466.54,642.24 1452.18,635.6 1437.95,628.97 1423.84,622.33 1409.86,615.7 1396,609.06 1382.26,602.42 1368.64,595.79 1355.14,589.15 1341.77,582.52 1328.51,575.88 1315.37,569.24 1302.35,562.61 1289.45,555.97 1276.66,549.34 1263.99,542.7 1251.44,536.06 1238.99,529.43 1226.67,522.79 1214.45,516.16 1202.34,509.52 1190.35,502.88 1178.47,496.25 1166.69,489.61 1155.03,482.98 1143.47,476.34 1132.02,469.7 1120.68,463.07 1109.45,456.43 1098.31,449.8 1087.29,443.16 1076.37,436.52 1065.55,429.89 1054.83,423.25 1044.22,416.62 1033.7,409.98 1023.29,403.34 1012.98,396.71 1002.76,390.07 992.65,383.44 982.63,376.8 972.71,370.16 962.89,363.53 953.17,356.89 943.54,350.26 934,343.62 924.56,336.98 915.21,330.35 905.95,323.71 896.79,317.08 887.72,310.44 878.74,303.8 869.85,297.17 861.05,290.53 852.34,283.9 843.72,277.26 835.19,270.62 826.74,263.99 818.38,257.35 810.11,250.72 801.93,244.08 793.83,237.44 785.81,230.81 777.88,224.17 770.03,217.54 762.27,210.9 754.59,204.26 746.99,197.63 739.47,190.99 732.03,184.36 724.67,177.72 717.4,171.08 710.2,164.45 703.08,157.81 696.04,151.18 689.08,144.54 682.19,137.9 675.39,131.27 668.65,124.63 662,118 655.42,111.36 648.91,104.72 642.48,98.09 636.12,91.45 629.84,84.82 623.63,78.18 617.49,71.54 611.42,64.91 605.43,58.27 599.5,51.64 593.65,45" fill="none" stroke="#fa3c3c" stroke-width="1.1" />
<line x1="-755.49" y1="722.66" x2="-261.88" y2="45" stroke="#1e3cff" stroke-width="1.1" />
<line x1="-687.99" y1="722.66" x2="-194.38" y2="45" stroke="#1e3cff" stroke-width="1.1" />
<line x1="-620.49" y1="722.66" x2="-126.88" y2="45" stroke="#1e3cff" stroke-width="1.1" />
<line x1="-552.99" y1="722.66" x2="-59.38" y2="45" stroke="#1e3cff" stroke-width="1.1" />
<line x1="-485.49" y1="722.66" x2="8.12" y2="45" stroke="#1e3cff" stroke-width="1.1" />
<line x1="-417.99" y1="722.66" x2="75.62" y2="45" stroke="#1e3cff" stroke-width="1.1" />
<line x1="-350.49" y1="722.66" x2="143.12" y2="45" stroke="#1e3cff" stroke-width="1.1" />
<line x1="-282.99" y1="722.66" x2="210.62" y2="45" stroke="#1e3cff" stroke-width="1.1" />
<line x1="-215.49" y1="722.66" x2="278.12" y2="45" stroke="#1e3cff" stroke-width="1.1" />
<line x1="-147.99" y1="722.66" x2="345.62" y2="45" stroke="#1e3cff" stroke-width="1.1" />
<line x1="-80.49" y1="722.66" x2="413.12" y2="45" stroke="#1e3cff" stroke-width="1.1" />
<line x1="-12.99" y1="722.66" x2="480.62" y2="45" stroke="#1e3cff" stroke-width="1.1" />
<line x1="54.51" y1="722.66" x2="548.12" y2="45" stroke="#1e3cff" stroke-width="1.1" />
<line x1="122.01" y1="722.66" x2="615.62" y2="45" stroke="#1e3cff" stroke-width="1.1" />
<line x1="189.51" y1="722.66" x2="683.12" y2="45" stroke="#1e3cff" stroke-width="1.1" />
<line x1="257.01" y1="722.66" x2="750.62" y2="45" stroke="#1e3cff" stroke-width="1.1" />
<line x1="392.01" y1="722.66" x2="885.62" y2="45" stroke="#1e3cff" stroke-width="1.1" />
<line x1="459.51" y1="722.66" x2="953.12" y2="45" stroke="#1e3cff" stroke-width="1.1" />
<line x1="527.01" y1="722.66" x2="1020.62" y2="45" stroke="#1e3cff" stroke-width="1.1" />
<line x1="594.51" y1="722.66" x2="1088.12" y2="45" stroke="#1e3cff" stroke-width="1.1" />
<polyline points="98.5,708.6 96.19,705.7 93.85,702.78 91.5,699.82 89.13,696.84 86.74,693.82 84.33,690.77 81.9,687.69 79.45,684.57 76.98,681.42 74.49,678.24 71.98,675.02 69.45,671.76 66.91,668.46 64.34,665.13 61.75,661.76 59.15,658.35 56.52,654.9 53.88,651.41 51.22,647.87 48.53,644.29 45.83,640.67 43.1,636.99 40.36,633.28 37.6,629.51 34.81,625.69 32.01,621.82 29.19,617.9 26.34,613.93 23.48,609.9 20.59,605.81 17.69,601.66 14.76,597.45 11.81,593.18 8.85,588.85 5.86,584.45 2.85,579.98 -0.19,575.44 -3.24,570.83 -6.31,566.14 -9.41,561.38 -12.53,556.54 -15.67,551.61 -18.83,546.6 -22.02,541.5 -25.23,536.3 -28.46,531.02 -31.72,525.63 -35,520.14 -38.3,514.54 -41.63,508.84 -44.98,503.01 -48.36,497.07 -51.76,491 -55.19,484.81 -58.65,478.47 -62.12,472 -65.63,465.37 -69.16,458.59 -72.72,451.64 -76.3,444.53 -79.91,437.23 -83.55,429.74 -87.22,422.06 -90.91,414.16 -94.63,406.04 -98.38,397.69 -102.15,389.09 -105.96,380.22 -109.78,371.07 -113.64,361.62" fill="none" stroke="#006400" stroke-width="1.1" />
<polyline points="132.25,708.6 129.94,705.7 127.6,702.78 125.24,699.82 122.85,696.84 120.45,693.82 118.02,690.77 115.57,687.69 113.09,684.57 110.59,681.42 108.07,678.24 105.53,675.02 102.96,671.76 100.37,668.46 97.75,665.13 95.12,661.76 92.46,658.35 89.77,654.9 87.06,651.41 84.33,647.87 81.58,644.29 78.8,640.67 76,636.99 73.18,633.28 70.33,629.51 67.46,625.69 64.57,621.82 61.65,617.9 58.71,613.93 55.75,609.9 52.76,605.81 49.75,601.66 46.72,597.45 43.66,593.18 40.57,588.85 37.47,584.45 34.34,579.98 31.18,575.44 28,570.83 24.79,566.14 21.56,561.38 18.31,556.54 15.03,551.61 11.72,546.6 8.39,541.5 5.04,536.3 1.65,531.02 -1.76,525.63 -5.19,520.14 -8.66,514.54 -12.15,508.84 -15.66,503.01 -19.21,497.07 -22.78,491 -26.38,484.81 -30.01,478.47 -33.67,472 -37.36,465.37 -41.08,458.59 -44.83,451.64 -48.61,444.53 -52.42,437.23 -56.26,429.74 -60.13,422.06 -64.03,414.16 -67.97,406.04 -71.94,397.69 -75.93,389.09 -79.96,380.22 -84.03,371.07 -88.12,361.62" fill="none" stroke="#006400" stroke-width="1.1" />
<polyline points="166,708.6 163.72,705.7 161.42,702.78 159.09,699.82 156.73,696.84 154.34,693.82 151.93,690.77 149.49,687.69 147.03,684.57 144.53,681.42 142.01,678.24 139.46,675.02 136.88,671.76 134.28,668.46 131.65,665.13 128.99,661.76 126.3,658.35 123.58,654.9 120.84,651.41 118.07,647.87 115.27,644.29 112.45,640.67 109.59,636.99 106.71,633.28 103.8,629.51 100.86,625.69 97.9,621.82 94.91,617.9 91.89,613.93 88.84,609.9 85.76,605.81 82.66,601.66 79.53,597.45 76.37,593.18 73.18,588.85 69.96,584.45 66.72,579.98 63.45,575.44 60.15,570.83 56.82,566.14 53.46,561.38 50.07,556.54 46.66,551.61 43.21,546.6 39.74,541.5 36.24,536.3 32.71,531.02 29.14,525.63 25.55,520.14 21.93,514.54 18.28,508.84 14.59,503.01 10.88,497.07 7.13,491 3.35,484.81 -0.46,478.47 -4.3,472 -8.18,465.37 -12.09,458.59 -16.04,451.64 -20.01,444.53 -24.03,437.23 -28.08,429.74 -32.16,422.06 -36.28,414.16 -40.44,406.04 -44.63,397.69 -48.86,389.09 -53.12,380.22 -57.43,371.07 -61.77,361.62" fill="none" stroke="#006400" stroke-width="1.1" />
<polyline points="199.75,708.6 197.55,705.7 195.33,702.78 193.07,699.82 190.78,696.84 188.46,693.82 186.11,690.77 183.73,687.69 181.32,684.57 178.87,681.42 176.39,678.24 173.88,675.02 171.34,671.76 168.76,668.46 166.15,665.13 163.51,661.76 160.83,658.35 158.13,654.9 155.39,651.41 152.61,647.87 149.8,644.29 146.96,640.67 144.09,636.99 141.18,633.28 138.24,629.51 135.26,625.69 132.26,621.82 129.22,617.9 126.14,613.93 123.03,609.9 119.89,605.81 116.72,601.66 113.51,597.45 110.27,593.18 107,588.85 103.69,584.45 100.35,579.98 96.97,575.44 93.56,570.83 90.12,566.14 86.65,561.38 83.14,556.54 79.6,551.61 76.02,546.6 72.41,541.5 68.77,536.3 65.09,531.02 61.38,525.63 57.63,520.14 53.85,514.54 50.04,508.84 46.19,503.01 42.3,497.07 38.38,491 34.42,484.81 30.42,478.47 26.39,472 22.32,465.37 18.21,458.59 14.06,451.64 9.88,444.53 5.65,437.23 1.39,429.74 -2.91,422.06 -7.26,414.16 -11.64,406.04 -16.07,397.69 -20.54,389.09 -25.05,380.22 -29.61,371.07 -34.21,361.62" fill="none" stroke="#006400" stroke-width="1.1" />
<polyline points="233.5,708.6 231.44,705.7 229.34,702.78 227.2,699.82 225.04,696.84 222.84,693.82 220.6,690.77 218.33,687.69 216.02,684.57 213.67,681.42 211.29,678.24 208.87,675.02 206.42,671.76 203.92,668.46 201.39,665.13 198.82,661.76 196.21,658.35 193.56,654.9 190.87,651.41 188.15,647.87 185.38,644.29 182.57,640.67 179.73,636.99 176.84,633.28 173.92,629.51 170.95,625.69 167.94,621.82 164.89,617.9 161.81,613.93 158.68,609.9 155.51,605.81 152.3,601.66 149.05,597.45 145.76,593.18 142.43,588.85 139.06,584.45 135.65,579.98 132.2,575.44 128.71,570.83 125.18,566.14 121.6,561.38 117.99,556.54 114.34,551.61 110.65,546.6 106.91,541.5 103.14,536.3 99.33,531.02 95.47,525.63 91.58,520.14 87.64,514.54 83.67,508.84 79.65,503.01 75.59,497.07 71.49,491 67.35,484.81 63.17,478.47 58.94,472 54.67,465.37 50.36,458.59 46.01,451.64 41.61,444.53 37.16,437.23 32.67,429.74 28.14,422.06 23.56,414.16 18.93,406.04 14.25,397.69 9.53,389.09 4.76,380.22 -0.06,371.07 -4.94,361.62" fill="none" stroke="#006400" stroke-width="1.1" />
<polyline points="267.25,708.6 265.36,705.7 263.44,702.78 261.49,699.82 259.5,696.84 257.47,693.82 255.4,690.77 253.3,687.69 251.15,684.57 248.97,681.42 246.75,678.24 244.48,675.02 242.17,671.76 239.83,668.46 237.44,665.13 235,661.76 232.52,658.35 230,654.9 227.44,651.41 224.82,647.87 222.16,644.29 219.46,640.67 216.71,636.99 213.91,633.28 211.06,629.51 208.17,625.69 205.23,621.82 202.24,617.9 199.2,613.93 196.11,609.9 192.97,605.81 189.79,601.66 186.55,597.45 183.26,593.18 179.93,588.85 176.54,584.45 173.11,579.98 169.63,575.44 166.09,570.83 162.51,566.14 158.88,561.38 155.2,556.54 151.46,551.61 147.68,546.6 143.85,541.5 139.98,536.3 136.05,531.02 132.07,525.63 128.04,520.14 123.97,514.54 119.84,508.84 115.67,503.01 111.45,497.07 107.18,491 102.86,484.81 98.49,478.47 94.07,472 89.6,465.37 85.08,458.59 80.51,451.64 75.88,444.53 71.21,437.23 66.48,429.74 61.71,422.06 56.88,414.16 51.99,406.04 47.05,397.69 42.05,389.09 37,380.22 31.9,371.07 26.73,361.62" fill="none" stroke="#006400" stroke-width="1.1" />
<polyline points="301,708.6 299.34,705.7 297.64,702.78 295.9,699.82 294.14,696.84 292.33,693.82 290.49,690.77 288.6,687.69 286.68,684.57 284.72,681.42 282.72,678.24 280.67,675.02 278.58,671.76 276.45,668.46 274.27,665.13 272.05,661.76 269.78,658.35 267.46,654.9 265.09,651.41 262.67,647.87 260.21,644.29 257.69,640.67 255.11,636.99 252.49,633.28 249.81,629.51 247.07,625.69 244.28,621.82 241.44,617.9 238.53,613.93 235.57,609.9 232.55,605.81 229.47,601.66 226.34,597.45 223.14,593.18 219.88,588.85 216.56,584.45 213.18,579.98 209.74,575.44 206.24,570.83 202.67,566.14 199.05,561.38 195.36,556.54 191.61,551.61 187.8,546.6 183.92,541.5 179.99,536.3 175.99,531.02 171.94,525.63 167.82,520.14 163.64,514.54 159.39,508.84 155.09,503.01 150.73,497.07 146.3,491 141.82,484.81 137.27,478.47 132.67,472 128,465.37 123.28,458.59 118.49,451.64 113.64,444.53 108.73,437.23 103.76,429.74 98.72,422.06 93.63,414.16 88.47,406.04 83.25,397.69 77.96,389.09 72.61,380.22 67.19,371.07 61.7,361.62" fill="none" stroke="#006400" stroke-width="1.1" />
<polyline points="334.75,708.6 333.34,705.7 331.89,702.78 330.42,699.82 328.91,696.84 327.36,693.82 325.79,690.77 324.17,687.69 322.52,684.57 320.83,681.42 319.1,678.24 317.33,675.02 315.52,671.76 313.66,668.46 311.76,665.13 309.82,661.76 307.83,658.35 305.79,654.9 303.7,651.41 301.56,647.87 299.37,644.29 297.12,640.67 294.82,636.99 292.47,633.28 290.06,629.51 287.58,625.69 285.05,621.82 282.46,617.9 279.8,613.93 277.08,609.9 274.29,605.81 271.43,601.66 268.51,597.45 265.52,593.18 262.46,588.85 259.32,584.45 256.12,579.98 252.84,575.44 249.48,570.83 246.05,566.14 242.54,561.38 238.96,556.54 235.3,551.61 231.56,546.6 227.75,541.5 223.85,536.3 219.88,531.02 215.83,525.63 211.7,520.14 207.49,514.54 203.2,508.84 198.83,503.01 194.39,497.07 189.86,491 185.26,484.81 180.58,478.47 175.83,472 171,465.37 166.09,458.59 161.1,451.64 156.04,444.53 150.9,437.23 145.68,429.74 140.39,422.06 135.02,414.16 129.58,406.04 124.06,397.69 118.46,389.09 112.78,380.22 107.02,371.07 101.19,361.62" fill="none" stroke="#006400" stroke-width="1.1" />
<polyline points="368.5,708.6 367.35,705.7 366.18,702.78 364.98,699.82 363.75,696.84 362.49,693.82 361.2,690.77 359.88,687.69 358.52,684.57 357.14,681.42 355.72,678.24 354.26,675.02 352.76,671.76 351.23,668.46 349.66,665.13 348.05,661.76 346.39,658.35 344.69,654.9 342.95,651.41 341.15,647.87 339.31,644.29 337.42,640.67 335.48,636.99 333.48,633.28 331.43,629.51 329.32,625.69 327.15,621.82 324.92,617.9 322.62,613.93 320.26,609.9 317.83,605.81 315.33,601.66 312.76,597.45 310.12,593.18 307.4,588.85 304.6,584.45 301.73,579.98 298.77,575.44 295.72,570.83 292.59,566.14 289.37,561.38 286.06,556.54 282.66,551.61 279.16,546.6 275.57,541.5 271.89,536.3 268.1,531.02 264.22,525.63 260.23,520.14 256.15,514.54 251.96,508.84 247.67,503.01 243.27,497.07 238.78,491 234.18,484.81 229.47,478.47 224.66,472 219.75,465.37 214.74,458.59 209.63,451.64 204.41,444.53 199.09,437.23 193.67,429.74 188.15,422.06 182.54,414.16 176.82,406.04 171,397.69 165.09,389.09 159.07,380.22 152.96,371.07 146.75,361.62" fill="none" stroke="#006400" stroke-width="1.1" />
<polyline points="402.25,708.6 401.36,705.7 400.46,702.78 399.53,699.82 398.58,696.84 397.61,693.82 396.61,690.77 395.59,687.69 394.54,684.57 393.47,681.42 392.36,678.24 391.23,675.02 390.07,671.76 388.88,668.46 387.65,665.13 386.39,661.76 385.1,658.35 383.77,654.9 382.4,651.41 381,647.87 379.55,644.29 378.06,640.67 376.52,636.99 374.94,633.28 373.31,629.51 371.63,625.69 369.9,621.82 368.11,617.9 366.26,613.93 364.36,609.9 362.4,605.81 360.37,601.66 358.27,597.45 356.11,593.18 353.87,588.85 351.56,584.45 349.17,579.98 346.7,575.44 344.14,570.83 341.49,566.14 338.76,561.38 335.93,556.54 333,551.61 329.97,546.6 326.83,541.5 323.59,536.3 320.24,531.02 316.77,525.63 313.18,520.14 309.47,514.54 305.63,508.84 301.67,503.01 297.58,497.07 293.36,491 289,484.81 284.5,478.47 279.87,472 275.1,465.37 270.18,458.59 265.13,451.64 259.94,444.53 254.6,437.23 249.12,429.74 243.51,422.06 237.75,414.16 231.85,406.04 225.82,397.69 219.65,389.09 213.34,380.22 206.9,371.07 200.33,361.62" fill="none" stroke="#006400" stroke-width="1.1" />
<polyline points="436,708.6 435.36,705.7 434.71,702.78 434.04,699.82 433.35,696.84 432.65,693.82 431.93,690.77 431.19,687.69 430.43,684.57 429.65,681.42 428.86,678.24 428.04,675.02 427.2,671.76 426.33,668.46 425.45,665.13 424.53,661.76 423.59,658.35 422.63,654.9 421.64,651.41 420.61,647.87 419.56,644.29 418.47,640.67 417.35,636.99 416.19,633.28 415,629.51 413.77,625.69 412.5,621.82 411.18,617.9 409.83,613.93 408.42,609.9 406.97,605.81 405.46,601.66 403.9,597.45 402.28,593.18 400.61,588.85 398.87,584.45 397.07,579.98 395.19,575.44 393.25,570.83 391.23,566.14 389.13,561.38 386.94,556.54 384.67,551.61 382.31,546.6 379.84,541.5 377.28,536.3 374.6,531.02 371.82,525.63 368.91,520.14 365.88,514.54 362.72,508.84 359.43,503.01 355.99,497.07 352.41,491 348.67,484.81 344.77,478.47 340.7,472 336.47,465.37 332.05,458.59 327.46,451.64 322.68,444.53 317.7,437.23 312.54,429.74 307.17,422.06 301.61,414.16 295.84,406.04 289.87,397.69 283.7,389.09 277.32,380.22 270.74,371.07 263.97,361.62" fill="none" stroke="#006400" stroke-width="1.1" />
<polyline points="469.75,708.6 469.33,705.7 468.9,702.78 468.46,699.82 468.01,696.84 467.54,693.82 467.07,690.77 466.59,687.69 466.09,684.57 465.58,681.42 465.06,678.24 464.52,675.02 463.97,671.76 463.4,668.46 462.82,665.13 462.22,661.76 461.6,658.35 460.97,654.9 460.31,651.41 459.64,647.87 458.95,644.29 458.23,640.67 457.5,636.99 456.73,633.28 455.95,629.51 455.13,625.69 454.29,621.82 453.42,617.9 452.53,613.93 451.59,609.9 450.63,605.81 449.63,601.66 448.59,597.45 447.51,593.18 446.39,588.85 445.23,584.45 444.02,579.98 442.76,575.44 441.45,570.83 440.08,566.14 438.65,561.38 437.16,556.54 435.61,551.61 433.99,546.6 432.29,541.5 430.51,536.3 428.65,531.02 426.7,525.63 424.65,520.14 422.51,514.54 420.25,508.84 417.88,503.01 415.39,497.07 412.77,491 410,484.81 407.09,478.47 404.03,472 400.79,465.37 397.38,458.59 393.78,451.64 389.97,444.53 385.96,437.23 381.72,429.74 377.25,422.06 372.53,414.16 367.55,406.04 362.3,397.69 356.77,389.09 350.95,380.22 344.84,371.07 338.43,361.62" fill="none" stroke="#006400" stroke-width="1.1" />
<polyline points="503.5,708.6 503.27,705.7 503.03,702.78 502.78,699.82 502.53,696.84 502.27,693.82 502.01,690.77 501.74,687.69 501.46,684.57 501.18,681.42 500.89,678.24 500.59,675.02 500.29,671.76 499.97,668.46 499.65,665.13 499.31,661.76 498.97,658.35 498.62,654.9 498.25,651.41 497.88,647.87 497.49,644.29 497.09,640.67 496.68,636.99 496.26,633.28 495.82,629.51 495.36,625.69 494.89,621.82 494.4,617.9 493.9,613.93 493.37,609.9 492.83,605.81 492.26,601.66 491.68,597.45 491.07,593.18 490.43,588.85 489.77,584.45 489.08,579.98 488.36,575.44 487.61,570.83 486.83,566.14 486.01,561.38 485.15,556.54 484.25,551.61 483.31,546.6 482.32,541.5 481.28,536.3 480.19,531.02 479.04,525.63 477.83,520.14 476.56,514.54 475.21,508.84 473.79,503.01 472.28,497.07 470.69,491 469,484.81 467.21,478.47 465.31,472 463.29,465.37 461.13,458.59 458.83,451.64 456.38,444.53 453.76,437.23 450.95,429.74 447.95,422.06 444.73,414.16 441.27,406.04 437.56,397.69 433.57,389.09 429.28,380.22 424.66,371.07 419.7,361.62" fill="none" stroke="#006400" stroke-width="1.1" />
<polyline points="537.25,708.6 537.17,705.7 537.08,702.78 537,699.82 536.91,696.84 536.82,693.82 536.73,690.77 536.63,687.69 536.54,684.57 536.44,681.42 536.33,678.24 536.23,675.02 536.12,671.76 536.01,668.46 535.89,665.13 535.78,661.76 535.65,658.35 535.53,654.9 535.4,651.41 535.26,647.87 535.12,644.29 534.98,640.67 534.83,636.99 534.67,633.28 534.51,629.51 534.34,625.69 534.16,621.82 533.98,617.9 533.79,613.93 533.59,609.9 533.38,605.81 533.16,601.66 532.94,597.45 532.7,593.18 532.45,588.85 532.19,584.45 531.91,579.98 531.62,575.44 531.32,570.83 531,566.14 530.66,561.38 530.31,556.54 529.93,551.61 529.54,546.6 529.12,541.5 528.68,536.3 528.21,531.02 527.71,525.63 527.18,520.14 526.62,514.54 526.02,508.84 525.39,503.01 524.71,497.07 523.98,491 523.2,484.81 522.37,478.47 521.48,472 520.53,465.37 519.5,458.59 518.39,451.64 517.2,444.53 515.91,437.23 514.51,429.74 513,422.06 511.36,414.16 509.57,406.04 507.63,397.69 505.5,389.09 503.18,380.22 500.63,371.07 497.83,361.62" fill="none" stroke="#006400" stroke-width="1.1" />
<polyline points="571,708.6 571.04,705.7 571.07,702.78 571.11,699.82 571.15,696.84 571.19,693.82 571.23,690.77 571.27,687.69 571.31,684.57 571.35,681.42 571.4,678.24 571.44,675.02 571.49,671.76 571.53,668.46 571.58,665.13 571.62,661.76 571.67,658.35 571.72,654.9 571.76,651.41 571.81,647.87 571.86,644.29 571.91,640.67 571.96,636.99 572.01,633.28 572.05,629.51 572.1,625.69 572.15,621.82 572.2,617.9 572.24,613.93 572.29,609.9 572.33,605.81 572.38,601.66 572.42,597.45 572.46,593.18 572.5,588.85 572.54,584.45 572.57,579.98 572.6,575.44 572.63,570.83 572.66,566.14 572.68,561.38 572.7,556.54 572.71,551.61 572.72,546.6 572.72,541.5 572.71,536.3 572.7,531.02 572.68,525.63 572.65,520.14 572.61,514.54 572.56,508.84 572.5,503.01 572.42,497.07 572.33,491 572.22,484.81 572.09,478.47 571.94,472 571.76,465.37 571.56,458.59 571.33,451.64 571.07,444.53 570.77,437.23 570.43,429.74 570.04,422.06 569.6,414.16 569.1,406.04 568.53,397.69 567.89,389.09 567.15,380.22 566.32,371.07 565.38,361.62" fill="none" stroke="#006400" stroke-width="1.1" />
<polyline points="604.75,708.6 604.87,705.7 605,702.78 605.13,699.82 605.26,696.84 605.39,693.82 605.53,690.77 605.67,687.69 605.81,684.57 605.96,681.42 606.11,678.24 606.26,675.02 606.42,671.76 606.58,668.46 606.74,665.13 606.9,661.76 607.07,658.35 607.25,654.9 607.42,651.41 607.6,647.87 607.79,644.29 607.98,640.67 608.17,636.99 608.36,633.28 608.56,629.51 608.77,625.69 608.98,621.82 609.19,617.9 609.4,613.93 609.63,609.9 609.85,605.81 610.08,601.66 610.32,597.45 610.55,593.18 610.8,588.85 611.05,584.45 611.3,579.98 611.56,575.44 611.82,570.83 612.09,566.14 612.36,561.38 612.64,556.54 612.92,551.61 613.21,546.6 613.5,541.5 613.8,536.3 614.11,531.02 614.42,525.63 614.73,520.14 615.05,514.54 615.37,508.84 615.7,503.01 616.03,497.07 616.37,491 616.71,484.81 617.05,478.47 617.4,472 617.75,465.37 618.1,458.59 618.45,451.64 618.81,444.53 619.16,437.23 619.51,429.74 619.86,422.06 620.21,414.16 620.55,406.04 620.88,397.69 621.2,389.09 621.51,380.22 621.8,371.07 622.06,361.62" fill="none" stroke="#006400" stroke-width="1.1" />
<line x1="212.4" y1="722.66" x2="339.5" y2="444.53" stroke="#a000c8" stroke-width="1.1" stroke-dasharray="4.2 3"/>
<line x1="270.9" y1="722.66" x2="391.9" y2="444.53" stroke="#a000c8" stroke-width="1.1" stroke-dasharray="4.2 3"/>
<line x1="307.1" y1="722.66" x2="426.25" y2="444.53" stroke="#a000c8" stroke-width="1.1" stroke-dasharray="4.2 3"/>
<line x1="334.5" y1="722.66" x2="449.7" y2="444.53" stroke="#a000c8" stroke-width="1.1" stroke-dasharray="4.2 3"/>
<line x1="374.5" y1="722.66" x2="484.8" y2="444.53" stroke="#a000c8" stroke-width="1.1" stroke-dasharray="4.2 3"/>
<line x1="403.4" y1="722.66" x2="511.4" y2="444.53" stroke="#a000c8" stroke-width="1.1" stroke-dasharray="4.2 3"/>
<line x1="426.7" y1="722.66" x2="532.5" y2="444.53" stroke="#a000c8" stroke-width="1.1" stroke-dasharray="4.2 3"/>
<line x1="470.8" y1="722.66" x2="570" y2="444.53" stroke="#a000c8" stroke-width="1.1" stroke-dasharray="4.2 3"/>
<line x1="502.5" y1="722.66" x2="599.7" y2="444.53" stroke="#a000c8" stroke-width="1.1" stroke-dasharray="4.2 3"/>
<line x1="528.2" y1="722.66" x2="623.2" y2="444.53" stroke="#a000c8" stroke-width="1.1" stroke-dasharray="4.2 3"/>
<line x1="550.7" y1="722.66" x2="642.2" y2="444.53" stroke="#a000c8" stroke-width="1.1" stroke-dasharray="4.2 3"/>
<line x1="569.2" y1="722.66" x2="658.5" y2="444.53" stroke="#a000c8" stroke-width="1.1" stroke-dasharray="4.2 3"/>
<line x1="585.6" y1="722.66" x2="674.2" y2="444.53" stroke="#a000c8" stroke-width="1.1" stroke-dasharray="4.2 3"/>
<line x1="324.51" y1="722.66" x2="818.12" y2="45" stroke="#1e3cff" stroke-width="3" />
</g>
<line x1="60" y1="244.76" x2="605" y2="244.76" stroke="#000" stroke-width="1.8" />
<line x1="60" y1="361.62" x2="605" y2="361.62" stroke="#000" stroke-width="1.8" />
<line x1="60" y1="444.53" x2="605" y2="444.53" stroke="#000" stroke-width="1.8" />
<line x1="60" y1="508.84" x2="605" y2="508.84" stroke="#000" stroke-width="1.8" />
<line x1="60" y1="561.38" x2="605" y2="561.38" stroke="#000" stroke-width="1.8" />
<line x1="60" y1="605.81" x2="605" y2="605.81" stroke="#000" stroke-width="1.8" />
<line x1="60" y1="644.29" x2="605" y2="644.29" stroke="#000" stroke-width="1.8" />
<line x1="60" y1="678.24" x2="605" y2="678.24" stroke="#000" stroke-width="1.8" />
<line x1="60" y1="708.6" x2="605" y2="708.6" stroke="#000" stroke-width="1.8" />
<line x1="60" y1="45" x2="606" y2="45" stroke="#000" stroke-width="2" />
<line x1="65" y1="722.66" x2="606" y2="722.66" stroke="#000" stroke-width="2" />
<line x1="65" y1="44" x2="65" y2="723.66" stroke="#000" stroke-width="2.2" />
<line x1="605.2" y1="44" x2="605.2" y2="723.66" stroke="#000" stroke-width="2.4" />
<g clip-path="url(#box2)">
<polyline points="180.2,216.25 135.8,296.9 155.8,324 162.5,351 135,403.5 166.25,451.5 127.1,472.3 127.1,493 156.25,509.2 184.4,530.4 152.1,547.1 179.2,557.1 192.7,562.3 221.9,592.1 216.25,605 225,616.5 242.5,626.5 210,636.2 144.8,643.6 64,652.6 144.8,657 194.3,660 258.3,664.9 245.9,669 265,673.9 263.9,679.5 270.6,685.1 271.1,694.1 268.4,709.8" fill="none" stroke="#00dc00" stroke-width="4.6" stroke-linejoin="round" stroke-linecap="round"/>
</g>
<polyline points="425,44.3 406.7,79.6 389.6,107.7 371.9,137.9 356.25,164.6 331.25,188.8 289.1,216.7 239.1,242.5 216.7,269.1 228.5,323.3 248.3,362.5 267.5,410 286.25,447.9 302.9,474 319.6,508.3 335.2,531.25 343.5,545.8 347.1,551.5 350.2,562.9 352.9,577.5 350.2,591 351.7,604.6 353.75,616 348.1,628.5 340.8,642.1 330.4,652.5 307.5,665 309.6,669.6 295.4,681.25 296.7,686.9 317.2,710" fill="none" stroke="#fa3c3c" stroke-width="4.6" stroke-linejoin="round" stroke-linecap="round"/>
<text x="129.5" y="16.3" font-size="19.6" fill="#000" textLength="135.5" lengthAdjust="spacingAndGlyphs" stroke="#000" stroke-width="0.6" >2026030200</text>
<text x="281.25" y="16.3" font-size="19.6" fill="#000" textLength="41.25" lengthAdjust="spacingAndGlyphs" stroke="#000" stroke-width="0.6" >NAM</text>
<text x="338" y="16.3" font-size="19.6" fill="#000" textLength="54.25" lengthAdjust="spacingAndGlyphs" stroke="#000" stroke-width="0.6" >BUFR</text>
<text x="407.25" y="16.3" font-size="19.6" fill="#000" textLength="96.75" lengthAdjust="spacingAndGlyphs" stroke="#000" stroke-width="0.6" >Sounding</text>
<text x="519.75" y="16.3" font-size="19.6" fill="#000" textLength="27.5" lengthAdjust="spacingAndGlyphs" stroke="#000" stroke-width="0.6" >for</text>
<text x="562.25" y="16.3" font-size="19.6" fill="#000" textLength="53.25" lengthAdjust="spacingAndGlyphs" stroke="#000" stroke-width="0.6" >SPAR</text>
<text x="157.5" y="38.8" font-size="19.6" fill="#000" textLength="37.5" lengthAdjust="spacingAndGlyphs" stroke="#000" stroke-width="0.6" >23h</text>
<text x="212" y="38.8" font-size="19.6" fill="#000" textLength="86.75" lengthAdjust="spacingAndGlyphs" stroke="#000" stroke-width="0.6" >forecast</text>
<text x="312.5" y="38.8" font-size="19.6" fill="#000" textLength="47" lengthAdjust="spacingAndGlyphs" stroke="#000" stroke-width="0.6" >valid</text>
<text x="375.5" y="38.8" font-size="19.6" fill="#000" textLength="135.5" lengthAdjust="spacingAndGlyphs" stroke="#000" stroke-width="0.6" >2026030223</text>
<text x="527.25" y="38.8" font-size="19.6" fill="#000" textLength="60" lengthAdjust="spacingAndGlyphs" stroke="#000" stroke-width="0.6" >(Mon)</text>
<text x="28.9" y="50.7" font-size="15.7" fill="#000" textLength="26" lengthAdjust="spacingAndGlyphs" stroke="#000" stroke-width="0.75" >100</text>
<text x="28.9" y="250.46" font-size="15.7" fill="#000" textLength="26" lengthAdjust="spacingAndGlyphs" stroke="#000" stroke-width="0.75" >200</text>
<text x="28.9" y="367.32" font-size="15.7" fill="#000" textLength="26" lengthAdjust="spacingAndGlyphs" stroke="#000" stroke-width="0.75" >300</text>
<text x="28.9" y="450.23" font-size="15.7" fill="#000" textLength="26" lengthAdjust="spacingAndGlyphs" stroke="#000" stroke-width="0.75" >400</text>
<text x="28.9" y="514.54" font-size="15.7" fill="#000" textLength="26" lengthAdjust="spacingAndGlyphs" stroke="#000" stroke-width="0.75" >500</text>
<text x="28.9" y="567.08" font-size="15.7" fill="#000" textLength="26" lengthAdjust="spacingAndGlyphs" stroke="#000" stroke-width="0.75" >600</text>
<text x="28.9" y="611.51" font-size="15.7" fill="#000" textLength="26" lengthAdjust="spacingAndGlyphs" stroke="#000" stroke-width="0.75" >700</text>
<text x="28.9" y="649.99" font-size="15.7" fill="#000" textLength="26" lengthAdjust="spacingAndGlyphs" stroke="#000" stroke-width="0.75" >800</text>
<text x="28.9" y="683.94" font-size="15.7" fill="#000" textLength="26" lengthAdjust="spacingAndGlyphs" stroke="#000" stroke-width="0.75" >900</text>
<text x="20.5" y="714.3" font-size="15.7" fill="#000" textLength="34.4" lengthAdjust="spacingAndGlyphs" stroke="#000" stroke-width="0.75" >1000</text>
<text x="20.8" y="448" font-size="17" fill="#000" textLength="131" lengthAdjust="spacingAndGlyphs" stroke="#000" stroke-width="0.8" transform="rotate(-90 20.8 448)" >Pressure (mb)</text>
<text x="96" y="743.6" font-size="19.6" fill="#1e3cff" textLength="42.5" lengthAdjust="spacingAndGlyphs" stroke="#1e3cff" stroke-width="0.15" >−30</text>
<text x="163.5" y="743.6" font-size="19.6" fill="#1e3cff" textLength="42.5" lengthAdjust="spacingAndGlyphs" stroke="#1e3cff" stroke-width="0.15" >−20</text>
<text x="231" y="743.6" font-size="19.6" fill="#1e3cff" textLength="42.5" lengthAdjust="spacingAndGlyphs" stroke="#1e3cff" stroke-width="0.15" >−10</text>
<text x="314.3" y="743.6" font-size="19.6" fill="#1e3cff" textLength="11.4" lengthAdjust="spacingAndGlyphs" stroke="#1e3cff" stroke-width="0.15" >0</text>
<text x="375.2" y="743.6" font-size="19.6" fill="#1e3cff" textLength="24.5" lengthAdjust="spacingAndGlyphs" stroke="#1e3cff" stroke-width="0.15" >10</text>
<text x="442.7" y="743.6" font-size="19.6" fill="#1e3cff" textLength="24.5" lengthAdjust="spacingAndGlyphs" stroke="#1e3cff" stroke-width="0.15" >20</text>
<text x="510.2" y="743.6" font-size="19.6" fill="#1e3cff" textLength="24.5" lengthAdjust="spacingAndGlyphs" stroke="#1e3cff" stroke-width="0.15" >30</text>
<text x="577.7" y="743.6" font-size="19.6" fill="#1e3cff" textLength="24.5" lengthAdjust="spacingAndGlyphs" stroke="#1e3cff" stroke-width="0.15" >40</text>
<text x="246" y="760.6" font-size="17.8" fill="#1e3cff" textLength="158.5" lengthAdjust="spacingAndGlyphs" stroke="#1e3cff" stroke-width="1" >Temperature (°C)</text>
<text x="556.2" y="760" font-size="15.5" fill="#fa3c3c" textLength="188.2" lengthAdjust="spacingAndGlyphs" stroke="#fa3c3c" stroke-width="0.25" >coolwx.com/modelts</text>
<text x="344.4" y="440.2" font-size="11.2" fill="#a000c8" text-anchor="middle" stroke="#a000c8" stroke-width="0.3" >1</text>
<text x="397.2" y="440.2" font-size="11.2" fill="#a000c8" text-anchor="middle" stroke="#a000c8" stroke-width="0.3" >2</text>
<text x="429.4" y="440.2" font-size="11.2" fill="#a000c8" text-anchor="middle" stroke="#a000c8" stroke-width="0.3" >3</text>
<text x="454.4" y="440.2" font-size="11.2" fill="#a000c8" text-anchor="middle" stroke="#a000c8" stroke-width="0.3" >4</text>
<text x="489" y="440.2" font-size="11.2" fill="#a000c8" text-anchor="middle" stroke="#a000c8" stroke-width="0.3" >6</text>
<text x="515.3" y="440.2" font-size="11.2" fill="#a000c8" text-anchor="middle" stroke="#a000c8" stroke-width="0.3" >8</text>
<text x="540.3" y="440.2" font-size="11.2" fill="#a000c8" text-anchor="middle" stroke="#a000c8" stroke-width="0.3" >10</text>
<text x="579.4" y="440.2" font-size="11.2" fill="#a000c8" text-anchor="middle" stroke="#a000c8" stroke-width="0.3" >15</text>
<text x="609" y="440.2" font-size="11.2" fill="#a000c8" text-anchor="middle" stroke="#a000c8" stroke-width="0.3" >20</text>
<text x="620.2" y="501.9" font-size="11.2" fill="#a000c8" text-anchor="middle" stroke="#a000c8" stroke-width="0.3" >25</text>
<text x="620.2" y="561.8" font-size="11.2" fill="#a000c8" text-anchor="middle" stroke="#a000c8" stroke-width="0.3" >30</text>
<text x="620.2" y="615.3" font-size="11.2" fill="#a000c8" text-anchor="middle" stroke="#a000c8" stroke-width="0.3" >35</text>
<text x="620.2" y="665.8" font-size="11.2" fill="#a000c8" text-anchor="middle" stroke="#a000c8" stroke-width="0.3" >40</text>
<text x="647.6" y="585" font-size="16.5" fill="#a000c8" textLength="178" lengthAdjust="spacingAndGlyphs" stroke="#a000c8" stroke-width="0.9" transform="rotate(-90 647.6 585)" >Mixing Ratio (g/kg)</text>
<rect x="745.1" y="45.1" width="186.2" height="180.3" fill="none" stroke="#000" stroke-width="1.8"/>
<defs><clipPath id="hbox"><rect x="745.1" y="45.1" width="186.2" height="180.3"/></clipPath></defs>
<g clip-path="url(#hbox)">
<ellipse cx="837.6" cy="135.4" rx="30.99" ry="30.07" fill="none" stroke="#000" stroke-width="1.2"/>
<ellipse cx="837.6" cy="135.4" rx="61.98" ry="60.15" fill="none" stroke="#000" stroke-width="1.2"/>
<ellipse cx="837.6" cy="135.4" rx="92.97" ry="90.22" fill="none" stroke="#000" stroke-width="1.2"/>
</g>
<line x1="745.1" y1="135.4" x2="931.3" y2="135.4" stroke="#000" stroke-width="1.3" />
<line x1="837.6" y1="45.1" x2="837.6" y2="225.4" stroke="#000" stroke-width="1.3" />
<line x1="754.96" y1="133.4" x2="754.96" y2="137.4" stroke="#000" stroke-width="1.1" />
<line x1="835.6" y1="55.2" x2="839.6" y2="55.2" stroke="#000" stroke-width="1.1" />
<line x1="765.29" y1="133.4" x2="765.29" y2="137.4" stroke="#000" stroke-width="1.1" />
<line x1="835.6" y1="65.23" x2="839.6" y2="65.23" stroke="#000" stroke-width="1.1" />
<line x1="775.62" y1="133.4" x2="775.62" y2="137.4" stroke="#000" stroke-width="1.1" />
<line x1="835.6" y1="75.25" x2="839.6" y2="75.25" stroke="#000" stroke-width="1.1" />
<line x1="785.95" y1="133.4" x2="785.95" y2="137.4" stroke="#000" stroke-width="1.1" />
<line x1="835.6" y1="85.28" x2="839.6" y2="85.28" stroke="#000" stroke-width="1.1" />
<line x1="796.28" y1="133.4" x2="796.28" y2="137.4" stroke="#000" stroke-width="1.1" />
<line x1="835.6" y1="95.3" x2="839.6" y2="95.3" stroke="#000" stroke-width="1.1" />
<line x1="806.61" y1="133.4" x2="806.61" y2="137.4" stroke="#000" stroke-width="1.1" />
<line x1="835.6" y1="105.33" x2="839.6" y2="105.33" stroke="#000" stroke-width="1.1" />
<line x1="816.94" y1="133.4" x2="816.94" y2="137.4" stroke="#000" stroke-width="1.1" />
<line x1="835.6" y1="115.35" x2="839.6" y2="115.35" stroke="#000" stroke-width="1.1" />
<line x1="827.27" y1="133.4" x2="827.27" y2="137.4" stroke="#000" stroke-width="1.1" />
<line x1="835.6" y1="125.38" x2="839.6" y2="125.38" stroke="#000" stroke-width="1.1" />
<line x1="847.93" y1="133.4" x2="847.93" y2="137.4" stroke="#000" stroke-width="1.1" />
<line x1="835.6" y1="145.43" x2="839.6" y2="145.43" stroke="#000" stroke-width="1.1" />
<line x1="858.26" y1="133.4" x2="858.26" y2="137.4" stroke="#000" stroke-width="1.1" />
<line x1="835.6" y1="155.45" x2="839.6" y2="155.45" stroke="#000" stroke-width="1.1" />
<line x1="868.59" y1="133.4" x2="868.59" y2="137.4" stroke="#000" stroke-width="1.1" />
<line x1="835.6" y1="165.47" x2="839.6" y2="165.47" stroke="#000" stroke-width="1.1" />
<line x1="878.92" y1="133.4" x2="878.92" y2="137.4" stroke="#000" stroke-width="1.1" />
<line x1="835.6" y1="175.5" x2="839.6" y2="175.5" stroke="#000" stroke-width="1.1" />
<line x1="889.25" y1="133.4" x2="889.25" y2="137.4" stroke="#000" stroke-width="1.1" />
<line x1="835.6" y1="185.53" x2="839.6" y2="185.53" stroke="#000" stroke-width="1.1" />
<line x1="899.58" y1="133.4" x2="899.58" y2="137.4" stroke="#000" stroke-width="1.1" />
<line x1="835.6" y1="195.55" x2="839.6" y2="195.55" stroke="#000" stroke-width="1.1" />
<line x1="909.91" y1="133.4" x2="909.91" y2="137.4" stroke="#000" stroke-width="1.1" />
<line x1="835.6" y1="205.57" x2="839.6" y2="205.57" stroke="#000" stroke-width="1.1" />
<line x1="920.24" y1="133.4" x2="920.24" y2="137.4" stroke="#000" stroke-width="1.1" />
<line x1="835.6" y1="215.6" x2="839.6" y2="215.6" stroke="#000" stroke-width="1.1" />
<text x="749.8" y="58.9" font-size="12.3" fill="#000" textLength="37.5" lengthAdjust="spacingAndGlyphs" stroke="#000" stroke-width="0.35" >knots</text>
<text x="816.94" y="161.92" font-size="12.5" text-anchor="middle" transform="rotate(-45 816.94 157.42)" textLength="16" lengthAdjust="spacingAndGlyphs" stroke="#000" stroke-width="0.35">15</text>
<text x="794.27" y="182.73" font-size="12.5" text-anchor="middle" transform="rotate(-45 794.27 178.23)" textLength="16" lengthAdjust="spacingAndGlyphs" stroke="#000" stroke-width="0.35">30</text>
<text x="771.61" y="203.55" font-size="12.5" text-anchor="middle" transform="rotate(-45 771.61 199.05)" textLength="16" lengthAdjust="spacingAndGlyphs" stroke="#000" stroke-width="0.35">45</text>
<polyline points="835.7,125.8 837,116.7 839.6,115.4 845.3,120.6 853.2,127.1 861,131 868.8,133.1 877.9,133.6 875.3,138.8 869.3,141.4 870.1,146.1 875.3,145.3 885.7,150.6 897.4,149.3 911,147.2" fill="none" stroke="#00dc00" stroke-width="2" stroke-linejoin="round"/>
<rect x="834" y="124.2" width="3.4" height="3.4" fill="#00dc00"/>
<rect x="909.3" y="145.5" width="3.4" height="3.4" fill="#00dc00"/>
<line x1="837.6" y1="135.4" x2="899.6" y2="175.9" stroke="#fa3c3c" stroke-width="1.3" />
<polygon points="902.6,177.9 893.3,176.6 897.67,169.9" fill="#fa3c3c"/>
<rect x="768" y="270.6" width="158.3" height="402.1" fill="none" stroke="#222" stroke-width="1.2"/>
<line x1="768" y1="329.7" x2="926.3" y2="329.7" stroke="#222" stroke-width="1.2" />
<line x1="768" y1="456.5" x2="926.3" y2="456.5" stroke="#222" stroke-width="1.2" />
<line x1="768" y1="582.7" x2="926.3" y2="582.7" stroke="#222" stroke-width="1.2" />
<text x="772.5" y="289.3" font-size="12.8" fill="#000" textLength="9" lengthAdjust="spacingAndGlyphs" stroke="#000" stroke-width="0.35" >K</text>
<text x="871.4" y="289.3" font-size="12.8" fill="#000" textLength="28.4" lengthAdjust="spacingAndGlyphs" stroke="#000" stroke-width="0.35" >−27</text>
<text x="772.5" y="306.9" font-size="12.8" fill="#000" textLength="15" lengthAdjust="spacingAndGlyphs" stroke="#000" stroke-width="0.35" >TT</text>
<text x="871.4" y="306.9" font-size="12.8" fill="#000" textLength="16.6" lengthAdjust="spacingAndGlyphs" stroke="#000" stroke-width="0.35" >17</text>
<text x="772.5" y="321" font-size="12.8" fill="#000" textLength="20.9" lengthAdjust="spacingAndGlyphs" stroke="#000" stroke-width="0.35" >PW</text>
<text x="801.8" y="321" font-size="12.8" fill="#000" textLength="34.5" lengthAdjust="spacingAndGlyphs" stroke="#000" stroke-width="0.35" >(cm)</text>
<text x="871.4" y="321" font-size="12.8" fill="#000" textLength="30.1" lengthAdjust="spacingAndGlyphs" stroke="#000" stroke-width="0.35" >0.37</text>
<text x="795" y="347.9" font-size="12.8" fill="#000" textLength="49.4" lengthAdjust="spacingAndGlyphs" stroke="#000" stroke-width="0.35" >Lowest</text>
<text x="853" y="347.9" font-size="12.8" fill="#000" textLength="31.5" lengthAdjust="spacingAndGlyphs" stroke="#000" stroke-width="0.35" >level</text>
<text x="772.5" y="370.4" font-size="12.8" fill="#000" textLength="39.5" lengthAdjust="spacingAndGlyphs" stroke="#000" stroke-width="0.35" >Press</text>
<text x="821.2" y="370.4" font-size="12.8" fill="#000" textLength="34.5" lengthAdjust="spacingAndGlyphs" stroke="#000" stroke-width="0.35" >(mb)</text>
<text x="871.4" y="370.4" font-size="12.8" fill="#000" textLength="49" lengthAdjust="spacingAndGlyphs" stroke="#000" stroke-width="0.35" >1004.3</text>
<text x="772.5" y="384.1" font-size="12.8" fill="#000" textLength="37.4" lengthAdjust="spacingAndGlyphs" stroke="#000" stroke-width="0.35" >Temp</text>
<text x="819.8" y="384.1" font-size="12.8" fill="#000" textLength="27.8" lengthAdjust="spacingAndGlyphs" stroke="#000" stroke-width="0.35" >(°C)</text>
<text x="871.4" y="384.1" font-size="12.8" fill="#000" textLength="33.7" lengthAdjust="spacingAndGlyphs" stroke="#000" stroke-width="0.35" >−2.5</text>
<text x="772.5" y="397.25" font-size="12.8" fill="#000" textLength="36.5" lengthAdjust="spacingAndGlyphs" stroke="#000" stroke-width="0.35" >Dewp</text>
<text x="818.4" y="397.25" font-size="12.8" fill="#000" textLength="27.4" lengthAdjust="spacingAndGlyphs" stroke="#000" stroke-width="0.35" >(°C)</text>
<text x="871.4" y="397.25" font-size="12.8" fill="#000" textLength="33.7" lengthAdjust="spacingAndGlyphs" stroke="#000" stroke-width="0.35" >−9.8</text>
<text x="772.5" y="496.9" font-size="12.8" fill="#000" textLength="39.5" lengthAdjust="spacingAndGlyphs" stroke="#000" stroke-width="0.35" >Press</text>
<text x="821.2" y="496.9" font-size="12.8" fill="#000" textLength="34.5" lengthAdjust="spacingAndGlyphs" stroke="#000" stroke-width="0.35" >(mb)</text>
<text x="871.4" y="496.9" font-size="12.8" fill="#000" textLength="39.5" lengthAdjust="spacingAndGlyphs" stroke="#000" stroke-width="0.35" >779.4</text>
<text x="772.5" y="510.6" font-size="12.8" fill="#000" textLength="37.4" lengthAdjust="spacingAndGlyphs" stroke="#000" stroke-width="0.35" >Temp</text>
<text x="819.8" y="510.6" font-size="12.8" fill="#000" textLength="27.8" lengthAdjust="spacingAndGlyphs" stroke="#000" stroke-width="0.35" >(°C)</text>
<text x="871.4" y="510.6" font-size="12.8" fill="#000" textLength="33.7" lengthAdjust="spacingAndGlyphs" stroke="#000" stroke-width="0.35" >−2.5</text>
<text x="772.5" y="523.75" font-size="12.8" fill="#000" textLength="36.5" lengthAdjust="spacingAndGlyphs" stroke="#000" stroke-width="0.35" >Dewp</text>
<text x="818.4" y="523.75" font-size="12.8" fill="#000" textLength="27.4" lengthAdjust="spacingAndGlyphs" stroke="#000" stroke-width="0.35" >(°C)</text>
<text x="871.4" y="523.75" font-size="12.8" fill="#000" textLength="33.7" lengthAdjust="spacingAndGlyphs" stroke="#000" stroke-width="0.35" >−9.8</text>
<text x="773" y="411.2" font-size="12.8" textLength="12.6" lengthAdjust="spacingAndGlyphs" font-family="DejaVu Sans,Liberation Sans,sans-serif" font-weight="bold" font-style="italic">θ<tspan font-size="7" dy="2" font-style="normal">E</tspan></text>
<text x="793.7" y="411.2" font-size="12.8" fill="#000" textLength="21.6" lengthAdjust="spacingAndGlyphs" stroke="#000" stroke-width="0.35" >(K)</text>
<text x="871.4" y="411.2" font-size="12.8" fill="#000" textLength="39.5" lengthAdjust="spacingAndGlyphs" stroke="#000" stroke-width="0.35" >274.9</text>
<text x="772.5" y="424.6" font-size="12.8" fill="#000" textLength="11.4" lengthAdjust="spacingAndGlyphs" stroke="#000" stroke-width="0.35" >LI</text>
<text x="792.8" y="424.6" font-size="12.8" fill="#000" textLength="28.2" lengthAdjust="spacingAndGlyphs" stroke="#000" stroke-width="0.35" >(°C)</text>
<text x="871.4" y="424.6" font-size="12.8" fill="#000" textLength="31.1" lengthAdjust="spacingAndGlyphs" stroke="#000" stroke-width="0.35" >24.3</text>
<text x="772.5" y="438.4" font-size="12.8" fill="#000" textLength="36.5" lengthAdjust="spacingAndGlyphs" stroke="#000" stroke-width="0.35" >CAPE</text>
<text x="818" y="438.4" font-size="12.8" textLength="45.8" lengthAdjust="spacingAndGlyphs" stroke="#000" stroke-width="0.35">(Jkg<tspan font-size="8" dy="-4.5">−1</tspan><tspan dy="4.5">)</tspan></text>
<text x="871.1" y="438.4" font-size="12.8" fill="#000" textLength="8.2" lengthAdjust="spacingAndGlyphs" stroke="#000" stroke-width="0.35" >0</text>
<text x="772.5" y="451.9" font-size="12.8" fill="#000" textLength="22.1" lengthAdjust="spacingAndGlyphs" stroke="#000" stroke-width="0.35" >CIN</text>
<text x="805.1" y="451.9" font-size="12.8" textLength="45.2" lengthAdjust="spacingAndGlyphs" stroke="#000" stroke-width="0.35">(Jkg<tspan font-size="8" dy="-4.5">−1</tspan><tspan dy="4.5">)</tspan></text>
<text x="871.1" y="451.9" font-size="12.8" fill="#000" textLength="8.2" lengthAdjust="spacingAndGlyphs" stroke="#000" stroke-width="0.35" >0</text>
<text x="773" y="537.8" font-size="12.8" textLength="12.6" lengthAdjust="spacingAndGlyphs" font-family="DejaVu Sans,Liberation Sans,sans-serif" font-weight="bold" font-style="italic">θ<tspan font-size="7" dy="2" font-style="normal">E</tspan></text>
<text x="793.7" y="537.8" font-size="12.8" fill="#000" textLength="21.6" lengthAdjust="spacingAndGlyphs" stroke="#000" stroke-width="0.35" >(K)</text>
<text x="871.4" y="537.8" font-size="12.8" fill="#000" textLength="39.5" lengthAdjust="spacingAndGlyphs" stroke="#000" stroke-width="0.35" >287.8</text>
<text x="772.5" y="551.2" font-size="12.8" fill="#000" textLength="11.4" lengthAdjust="spacingAndGlyphs" stroke="#000" stroke-width="0.35" >LI</text>
<text x="792.8" y="551.2" font-size="12.8" fill="#000" textLength="28.2" lengthAdjust="spacingAndGlyphs" stroke="#000" stroke-width="0.35" >(°C)</text>
<text x="871.4" y="551.2" font-size="12.8" fill="#000" textLength="31.1" lengthAdjust="spacingAndGlyphs" stroke="#000" stroke-width="0.35" >14.3</text>
<text x="772.5" y="565" font-size="12.8" fill="#000" textLength="36.5" lengthAdjust="spacingAndGlyphs" stroke="#000" stroke-width="0.35" >CAPE</text>
<text x="818" y="565" font-size="12.8" textLength="45.8" lengthAdjust="spacingAndGlyphs" stroke="#000" stroke-width="0.35">(Jkg<tspan font-size="8" dy="-4.5">−1</tspan><tspan dy="4.5">)</tspan></text>
<text x="871.1" y="565" font-size="12.8" fill="#000" textLength="8.2" lengthAdjust="spacingAndGlyphs" stroke="#000" stroke-width="0.35" >0</text>
<text x="772.5" y="578.5" font-size="12.8" fill="#000" textLength="22.1" lengthAdjust="spacingAndGlyphs" stroke="#000" stroke-width="0.35" >CIN</text>
<text x="805.1" y="578.5" font-size="12.8" textLength="45.2" lengthAdjust="spacingAndGlyphs" stroke="#000" stroke-width="0.35">(Jkg<tspan font-size="8" dy="-4.5">−1</tspan><tspan dy="4.5">)</tspan></text>
<text x="871.1" y="578.5" font-size="12.8" fill="#000" textLength="8.2" lengthAdjust="spacingAndGlyphs" stroke="#000" stroke-width="0.35" >0</text>
<text x="791.6" y="474.5" font-size="12.8" fill="#000" textLength="32.7" lengthAdjust="spacingAndGlyphs" stroke="#000" stroke-width="0.35" >Most</text>
<text x="833.3" y="474.5" font-size="12.8" fill="#000" textLength="61.4" lengthAdjust="spacingAndGlyphs" stroke="#000" stroke-width="0.35" >Unstable</text>
<text x="805.4" y="596.2" font-size="12.8" fill="#000" textLength="77.3" lengthAdjust="spacingAndGlyphs" stroke="#000" stroke-width="0.35" >Hodograph</text>
<text x="772.5" y="614.2" font-size="12.8" fill="#000" textLength="17.6" lengthAdjust="spacingAndGlyphs" stroke="#000" stroke-width="0.35" >EH</text>
<text x="800" y="614.2" font-size="12.8" textLength="45.3" lengthAdjust="spacingAndGlyphs" stroke="#000" stroke-width="0.35">(Jkg<tspan font-size="8" dy="-4.5">−1</tspan><tspan dy="4.5">)</tspan></text>
<text x="871.4" y="614.2" font-size="12.8" fill="#000" textLength="17" lengthAdjust="spacingAndGlyphs" stroke="#000" stroke-width="0.35" >34</text>
<text x="772.5" y="627.8" font-size="12.8" fill="#000" textLength="37.4" lengthAdjust="spacingAndGlyphs" stroke="#000" stroke-width="0.35" >SREH</text>
<text x="819.8" y="627.8" font-size="12.8" textLength="44.9" lengthAdjust="spacingAndGlyphs" stroke="#000" stroke-width="0.35">(Jkg<tspan font-size="8" dy="-4.5">−1</tspan><tspan dy="4.5">)</tspan></text>
<text x="872.3" y="627.8" font-size="12.8" fill="#000" textLength="25.1" lengthAdjust="spacingAndGlyphs" stroke="#000" stroke-width="0.35" >115</text>
<text x="772.5" y="650.2" font-size="12.8" fill="#000" textLength="47.3" lengthAdjust="spacingAndGlyphs" stroke="#000" stroke-width="0.35" >StmDir</text>
<text x="830.2" y="650.2" font-size="12.8" fill="#000" textLength="17.8" lengthAdjust="spacingAndGlyphs" stroke="#000" stroke-width="0.35" >(°)</text>
<text x="871.4" y="650.2" font-size="12.8" fill="#000" textLength="26" lengthAdjust="spacingAndGlyphs" stroke="#000" stroke-width="0.35" >303</text>
<text x="772.5" y="664.1" font-size="12.8" fill="#000" textLength="54.9" lengthAdjust="spacingAndGlyphs" stroke="#000" stroke-width="0.35" >StmSpd</text>
<text x="836.7" y="664.1" font-size="12.8" fill="#000" textLength="25.6" lengthAdjust="spacingAndGlyphs" stroke="#000" stroke-width="0.35" >(kt)</text>
<text x="871.4" y="664.1" font-size="12.8" fill="#000" textLength="16.6" lengthAdjust="spacingAndGlyphs" stroke="#000" stroke-width="0.35" >38</text>
<text x="750.9" y="705.6" font-size="14.6" fill="#000" textLength="46" lengthAdjust="spacingAndGlyphs" stroke="#000" stroke-width="0.4" >NCEP</text>
<text x="811.3" y="705.6" font-size="14.6" fill="#000" textLength="43.5" lengthAdjust="spacingAndGlyphs" stroke="#000" stroke-width="0.4" >1−Hr</text>
<text x="867.1" y="705.6" font-size="14.6" fill="#000" textLength="56.8" lengthAdjust="spacingAndGlyphs" stroke="#000" stroke-width="0.4" >PType:</text>
<line x1="744" y1="711.3" x2="931.4" y2="711.3" stroke="#000" stroke-width="1.5" />
<text x="815.7" y="728.5" font-size="14.8" fill="#000" textLength="43.8" lengthAdjust="spacingAndGlyphs" stroke="#000" stroke-width="0.4" >None</text>
<text x="805.8" y="750.3" font-size="13" fill="#000" textLength="63.2" lengthAdjust="spacingAndGlyphs" stroke="#000" stroke-width="0.35" >(0" L.E.)</text>
<line x1="698.2" y1="44.5" x2="698.2" y2="712" stroke="#555" stroke-width="1.6" />
<g stroke="#ffb900" fill="#ffb900" stroke-width="1.55" stroke-linecap="round" stroke-linejoin="round"><path d="M698.2 75.8L664.78 68.1" fill="none"/><path d="M664.78 68.1L669.07 59.24L669.65 69.22Z" stroke-width="0.8"/><path d="M673.16 70.03L675.63 59.31" fill="none"/><path d="M677.83 71.11L680.3 60.39" fill="none"/><rect x="696.7" y="74.1" width="3.4" height="3.4" stroke="none"/></g>
<g stroke="#ffb900" fill="#ffb900" stroke-width="1.55" stroke-linecap="round" stroke-linejoin="round"><path d="M698.2 107L665.02 98.3" fill="none"/><path d="M665.02 98.3L669.58 89.57L669.86 99.57Z" stroke-width="0.8"/><path d="M673.34 100.48L676.13 89.84" fill="none"/><path d="M677.98 101.7L680.77 91.06" fill="none"/><rect x="696.7" y="105.3" width="3.4" height="3.4" stroke="none"/></g>
<g stroke="#ffb200" fill="#ffb200" stroke-width="1.55" stroke-linecap="round" stroke-linejoin="round"><path d="M698.2 136.5L666.98 122.3" fill="none"/><path d="M666.98 122.3L672.95 114.47L671.53 124.37Z" stroke-width="0.8"/><path d="M674.81 125.86L679.36 115.85" fill="none"/><path d="M679.18 127.85L683.73 117.83" fill="none"/><path d="M683.54 129.83L685.82 124.83" fill="none"/><rect x="696.7" y="134.8" width="3.4" height="3.4" stroke="none"/></g>
<g stroke="#ffa000" fill="#ffa000" stroke-width="1.55" stroke-linecap="round" stroke-linejoin="round"><path d="M698.2 164L666.98 149.8" fill="none"/><path d="M666.98 149.8L672.95 141.97L671.53 151.87Z" stroke-width="0.8"/><path d="M674.81 153.36L679.36 143.35" fill="none"/><path d="M679.18 155.35L683.73 145.33" fill="none"/><path d="M683.54 157.33L685.82 152.33" fill="none"/><rect x="696.7" y="162.3" width="3.4" height="3.4" stroke="none"/></g>
<g stroke="#ff8a00" fill="#ff8a00" stroke-width="1.55" stroke-linecap="round" stroke-linejoin="round"><path d="M698.2 190L668.24 173.3" fill="none"/><path d="M668.24 173.3L674.84 165.99L672.61 175.73Z" stroke-width="0.8"/><path d="M675.75 177.49L681.11 167.88" fill="none"/><path d="M679.94 179.82L685.3 170.22" fill="none"/><path d="M684.14 182.16L689.49 172.55" fill="none"/><path d="M688.33 184.5L691.01 179.69" fill="none"/><rect x="696.7" y="188.3" width="3.4" height="3.4" stroke="none"/></g>
<g stroke="#ff5000" fill="#ff5000" stroke-width="1.55" stroke-linecap="round" stroke-linejoin="round"><path d="M698.2 216.6L666.75 202.9" fill="none"/><path d="M666.75 202.9L672.61 194.98L671.34 204.9Z" stroke-width="0.8"/><path d="M674.64 206.33L679.03 196.25" fill="none"/><path d="M679.04 208.25L683.43 198.17" fill="none"/><path d="M683.44 210.17L687.83 200.08" fill="none"/><path d="M687.84 212.09L692.23 202" fill="none"/><rect x="696.7" y="214.9" width="3.4" height="3.4" stroke="none"/></g>
<g stroke="#ff6400" fill="#ff6400" stroke-width="1.55" stroke-linecap="round" stroke-linejoin="round"><path d="M698.2 242.5L666.26 230" fill="none"/><path d="M666.26 230L671.81 221.86L670.91 231.82Z" stroke-width="0.8"/><path d="M674.27 233.13L678.28 222.89" fill="none"/><path d="M678.74 234.88L682.75 224.64" fill="none"/><path d="M683.21 236.63L687.22 226.39" fill="none"/><path d="M687.68 238.38L691.69 228.14" fill="none"/><rect x="696.7" y="240.8" width="3.4" height="3.4" stroke="none"/></g>
<g stroke="#ffaa00" fill="#ffaa00" stroke-width="1.55" stroke-linecap="round" stroke-linejoin="round"><path d="M698.2 270L666.58 256.7" fill="none"/><path d="M666.58 256.7L672.33 248.7L671.19 258.64Z" stroke-width="0.8"/><path d="M674.51 260.03L678.78 249.9" fill="none"/><path d="M678.94 261.9L683.2 251.76" fill="none"/><path d="M683.36 263.76L685.49 258.69" fill="none"/><rect x="696.7" y="268.3" width="3.4" height="3.4" stroke="none"/></g>
<g stroke="#ff8c00" fill="#ff8c00" stroke-width="1.55" stroke-linecap="round" stroke-linejoin="round"><path d="M698.2 297L666.46 284" fill="none"/><path d="M666.46 284L672.13 275.95L671.09 285.9Z" stroke-width="0.8"/><path d="M674.42 287.26L678.59 277.08" fill="none"/><path d="M678.86 289.08L683.03 278.9" fill="none"/><path d="M683.3 290.9L687.47 280.72" fill="none"/><rect x="696.7" y="295.3" width="3.4" height="3.4" stroke="none"/></g>
<g stroke="#ffa000" fill="#ffa000" stroke-width="1.55" stroke-linecap="round" stroke-linejoin="round"><path d="M698.2 323.75L665.51 313.35" fill="none"/><path d="M665.51 313.35L670.52 304.87L670.28 314.87Z" stroke-width="0.8"/><path d="M673.71 315.96L677.05 305.48" fill="none"/><path d="M678.28 317.41L681.62 306.93" fill="none"/><path d="M682.86 318.87L686.19 308.39" fill="none"/><rect x="696.7" y="322.05" width="3.4" height="3.4" stroke="none"/></g>
<g stroke="#ff9600" fill="#ff9600" stroke-width="1.55" stroke-linecap="round" stroke-linejoin="round"><path d="M698.2 351.25L665.2 341.9" fill="none"/><path d="M665.2 341.9L669.93 333.26L670.01 343.26Z" stroke-width="0.8"/><path d="M673.47 344.24L676.47 333.66" fill="none"/><path d="M678.09 345.55L681.09 334.97" fill="none"/><path d="M682.71 346.86L685.71 336.28" fill="none"/><rect x="696.7" y="349.55" width="3.4" height="3.4" stroke="none"/></g>
<g stroke="#ffb400" fill="#ffb400" stroke-width="1.55" stroke-linecap="round" stroke-linejoin="round"><path d="M698.2 378L664.85 370" fill="none"/><path d="M664.85 370L669.22 361.18L669.71 371.17Z" stroke-width="0.8"/><path d="M673.21 372.01L675.77 361.31" fill="none"/><path d="M677.88 373.13L680.44 362.43" fill="none"/><path d="M682.54 374.24L683.83 368.9" fill="none"/><rect x="696.7" y="376.3" width="3.4" height="3.4" stroke="none"/></g>
<g stroke="#ffcd00" fill="#ffcd00" stroke-width="1.55" stroke-linecap="round" stroke-linejoin="round"><path d="M698.2 403.75L664.79 396" fill="none"/><path d="M664.79 396L669.1 387.15L669.66 397.13Z" stroke-width="0.8"/><path d="M673.16 397.94L675.65 387.23" fill="none"/><path d="M677.84 399.03L680.33 388.31" fill="none"/><rect x="696.7" y="402.05" width="3.4" height="3.4" stroke="none"/></g>
<g stroke="#ffda00" fill="#ffda00" stroke-width="1.55" stroke-linecap="round" stroke-linejoin="round"><path d="M698.2 428.3L664.48 422" fill="none"/><path d="M664.48 422L668.41 412.97L669.4 422.92Z" stroke-width="0.8"/><path d="M672.94 423.58L674.96 412.77" fill="none"/><path d="M677.66 424.46L678.67 419.05" fill="none"/><rect x="696.7" y="426.6" width="3.4" height="3.4" stroke="none"/></g>
<g stroke="#fff000" fill="#fff000" stroke-width="1.55" stroke-linecap="round" stroke-linejoin="round"><path d="M698.2 451.7L664.64 444.6" fill="none"/><path d="M664.64 444.6L668.78 435.66L669.53 445.63Z" stroke-width="0.8"/><path d="M673.06 446.38L675.33 435.62" fill="none"/><path d="M677.75 447.37L678.89 441.99" fill="none"/><rect x="696.7" y="450" width="3.4" height="3.4" stroke="none"/></g>
<g stroke="#ffff00" fill="#ffff00" stroke-width="1.55" stroke-linecap="round" stroke-linejoin="round"><path d="M698.2 473L665.17 463.75" fill="none"/><path d="M665.17 463.75L669.88 455.1L669.99 465.1Z" stroke-width="0.8"/><path d="M673.45 466.07L676.42 455.48" fill="none"/><rect x="696.7" y="471.3" width="3.4" height="3.4" stroke="none"/></g>
<g stroke="#ffff00" fill="#ffff00" stroke-width="1.55" stroke-linecap="round" stroke-linejoin="round"><path d="M698.2 493.3L665.02 484.6" fill="none"/><path d="M665.02 484.6L669.58 475.87L669.86 485.87Z" stroke-width="0.8"/><path d="M673.34 486.78L676.13 476.14" fill="none"/><rect x="696.7" y="491.6" width="3.4" height="3.4" stroke="none"/></g>
<g stroke="#e8ff00" fill="#e8ff00" stroke-width="1.55" stroke-linecap="round" stroke-linejoin="round"><path d="M698.2 512L665.18 502.7" fill="none"/><path d="M665.18 502.7L669.91 494.06L670 504.06Z" stroke-width="0.8"/><path d="M673.46 505.03L674.95 499.74" fill="none"/><rect x="696.7" y="510.3" width="3.4" height="3.4" stroke="none"/></g>
<g stroke="#beff00" fill="#beff00" stroke-width="1.55" stroke-linecap="round" stroke-linejoin="round"><path d="M698.2 530.4L665.39 520.4" fill="none"/><path d="M665.39 520.4L670.29 511.86L670.17 521.86Z" stroke-width="0.8"/><path d="M673.62 522.91L675.22 517.65" fill="none"/><rect x="696.7" y="528.7" width="3.4" height="3.4" stroke="none"/></g>
<g stroke="#a0ff00" fill="#a0ff00" stroke-width="1.55" stroke-linecap="round" stroke-linejoin="round"><path d="M698.2 547L665.48 536.7" fill="none"/><path d="M665.48 536.7L670.46 528.2L670.25 538.2Z" stroke-width="0.8"/><rect x="696.7" y="545.3" width="3.4" height="3.4" stroke="none"/></g>
<g stroke="#82ff00" fill="#82ff00" stroke-width="1.55" stroke-linecap="round" stroke-linejoin="round"><path d="M698.2 562.7L665.39 552.7" fill="none"/><path d="M665.39 552.7L670.29 544.16L670.17 554.16Z" stroke-width="0.8"/><rect x="696.7" y="561" width="3.4" height="3.4" stroke="none"/></g>
<g stroke="#64ff00" fill="#64ff00" stroke-width="1.55" stroke-linecap="round" stroke-linejoin="round"><path d="M698.2 577.7L665.98 569.7" fill="none"/><path d="M665.98 569.7L668.63 559.02" fill="none"/><path d="M670.64 570.86L673.29 560.18" fill="none"/><path d="M675.3 572.01L677.95 561.34" fill="none"/><path d="M679.95 573.17L682.6 562.49" fill="none"/><path d="M684.61 574.33L685.94 568.99" fill="none"/><rect x="696.7" y="576" width="3.4" height="3.4" stroke="none"/></g>
<g stroke="#28ff14" fill="#28ff14" stroke-width="1.55" stroke-linecap="round" stroke-linejoin="round"><path d="M698.2 591.9L666.16 583.2" fill="none"/><path d="M666.16 583.2L669.04 572.58" fill="none"/><path d="M670.79 584.46L673.67 573.84" fill="none"/><path d="M675.42 585.72L678.31 575.1" fill="none"/><path d="M680.06 586.97L682.94 576.36" fill="none"/><rect x="696.7" y="590.2" width="3.4" height="3.4" stroke="none"/></g>
<g stroke="#00ff32" fill="#00ff32" stroke-width="1.55" stroke-linecap="round" stroke-linejoin="round"><path d="M698.2 604.6L665.41 599.4" fill="none"/><path d="M665.41 599.4L667.13 588.54" fill="none"/><path d="M670.15 600.15L671.87 589.29" fill="none"/><path d="M674.89 600.9L676.61 590.04" fill="none"/><path d="M679.63 601.66L680.49 596.22" fill="none"/><rect x="696.7" y="602.9" width="3.4" height="3.4" stroke="none"/></g>
<g stroke="#00ff78" fill="#00ff78" stroke-width="1.55" stroke-linecap="round" stroke-linejoin="round"><path d="M698.2 616L665.58 609.8" fill="none"/><path d="M665.58 609.8L667.64 598.99" fill="none"/><path d="M670.3 610.7L672.35 599.89" fill="none"/><path d="M675.02 611.59L677.07 600.79" fill="none"/><rect x="696.7" y="614.3" width="3.4" height="3.4" stroke="none"/></g>
<g stroke="#00ffaa" fill="#00ffaa" stroke-width="1.55" stroke-linecap="round" stroke-linejoin="round"><path d="M698.2 627.3L666.74 616.7" fill="none"/><path d="M666.74 616.7L670.25 606.28" fill="none"/><path d="M671.29 618.23L674.8 607.81" fill="none"/><path d="M675.84 619.77L679.35 609.34" fill="none"/><rect x="696.7" y="625.6" width="3.4" height="3.4" stroke="none"/></g>
<g stroke="#00ffcd" fill="#00ffcd" stroke-width="1.55" stroke-linecap="round" stroke-linejoin="round"><path d="M698.2 636.7L666.36 627.3" fill="none"/><path d="M666.36 627.3L669.47 616.75" fill="none"/><path d="M670.96 628.66L674.08 618.11" fill="none"/><path d="M675.57 630.02L677.12 624.74" fill="none"/><rect x="696.7" y="635" width="3.4" height="3.4" stroke="none"/></g>
<g stroke="#00f0ff" fill="#00f0ff" stroke-width="1.55" stroke-linecap="round" stroke-linejoin="round"><path d="M698.2 645L666.22 636.1" fill="none"/><path d="M666.22 636.1L669.16 625.5" fill="none"/><path d="M670.84 637.39L673.79 626.79" fill="none"/><rect x="696.7" y="643.3" width="3.4" height="3.4" stroke="none"/></g>
<g stroke="#00ebff" fill="#00ebff" stroke-width="1.55" stroke-linecap="round" stroke-linejoin="round"><path d="M698.2 653.1L666.77 642.4" fill="none"/><path d="M666.77 642.4L670.32 631.99" fill="none"/><path d="M671.32 643.95L674.86 633.53" fill="none"/><rect x="696.7" y="651.4" width="3.4" height="3.4" stroke="none"/></g>
<g stroke="#00ebff" fill="#00ebff" stroke-width="1.55" stroke-linecap="round" stroke-linejoin="round"><path d="M698.2 659.4L665.77 652.3" fill="none"/><path d="M665.77 652.3L668.12 641.55" fill="none"/><path d="M670.46 653.33L671.63 647.95" fill="none"/><rect x="696.7" y="657.7" width="3.4" height="3.4" stroke="none"/></g>
<g stroke="#00ebff" fill="#00ebff" stroke-width="1.55" stroke-linecap="round" stroke-linejoin="round"><path d="M698.2 665L665.12 662.2" fill="none"/><path d="M665.12 662.2L666.05 651.24" fill="none"/><path d="M669.9 662.6L670.37 657.12" fill="none"/><rect x="696.7" y="663.3" width="3.4" height="3.4" stroke="none"/></g>
<g stroke="#00ebff" fill="#00ebff" stroke-width="1.55" stroke-linecap="round" stroke-linejoin="round"><path d="M698.2 671L665.02 672.1" fill="none"/><path d="M665.02 672.1L664.65 661.11" fill="none"/><rect x="696.7" y="669.3" width="3.4" height="3.4" stroke="none"/></g>
<g stroke="#00ebff" fill="#00ebff" stroke-width="1.55" stroke-linecap="round" stroke-linejoin="round"><path d="M698.2 674.7L665.07 676.8" fill="none"/><path d="M665.07 676.8L664.37 665.82" fill="none"/><rect x="696.7" y="673" width="3.4" height="3.4" stroke="none"/></g>
<g stroke="#148cff" fill="#148cff" stroke-width="1.75" stroke-linecap="round" stroke-linejoin="round"><path d="M698.2 679.8L665.4 683.3" fill="none"/><path d="M665.4 683.3L664.23 672.36" fill="none"/><rect x="696.7" y="678.1" width="3.4" height="3.4" stroke="none"/></g>
<g stroke="#148cff" fill="#148cff" stroke-width="1.75" stroke-linecap="round" stroke-linejoin="round"><path d="M698.2 682L670 697.4" fill="none"/><path d="M670 697.4L664.73 687.75" fill="none"/><rect x="696.7" y="680.3" width="3.4" height="3.4" stroke="none"/></g>
<g stroke="#148cff" fill="#148cff" stroke-width="1.75" stroke-linecap="round" stroke-linejoin="round"><path d="M698.2 684L678.2 708.3" fill="none"/><path d="M678.2 708.3L669.71 701.31" fill="none"/><rect x="696.7" y="682.3" width="3.4" height="3.4" stroke="none"/></g>
<g stroke="#148cff" fill="#148cff" stroke-width="1.75" stroke-linecap="round" stroke-linejoin="round"><path d="M698.2 686L683.9 713.5" fill="none"/><path d="M683.9 713.5L674.14 708.43" fill="none"/><rect x="696.7" y="684.3" width="3.4" height="3.4" stroke="none"/></g>
<g stroke="#148cff" fill="#148cff" stroke-width="1.75" stroke-linecap="round" stroke-linejoin="round"><path d="M698.2 688L686.4 716.5" fill="none"/><path d="M686.4 716.5L676.24 712.29" fill="none"/><rect x="696.7" y="686.3" width="3.4" height="3.4" stroke="none"/></g>
<g stroke="#148cff" fill="#148cff" stroke-width="1.75" stroke-linecap="round" stroke-linejoin="round"><path d="M698.2 689.5L687.8 717.5" fill="none"/><path d="M687.8 717.5L677.49 713.67" fill="none"/><rect x="696.7" y="687.8" width="3.4" height="3.4" stroke="none"/></g>
<g stroke="#148cff" fill="#148cff" stroke-width="1.75" stroke-linecap="round" stroke-linejoin="round"><path d="M698.2 690.75L688.59 719.02" fill="none"/><path d="M688.59 719.02L678.17 715.48" fill="none"/><rect x="696.7" y="689.05" width="3.4" height="3.4" stroke="none"/></g>
<g stroke="#148cff" fill="#148cff" stroke-width="1.75" stroke-linecap="round" stroke-linejoin="round"><path d="M698.2 692L689.37 720.54" fill="none"/><path d="M689.37 720.54L678.86 717.29" fill="none"/><rect x="696.7" y="690.3" width="3.4" height="3.4" stroke="none"/></g>
<g stroke="#148cff" fill="#148cff" stroke-width="1.75" stroke-linecap="round" stroke-linejoin="round"><path d="M698.2 693.25L690.16 722.06" fill="none"/><path d="M690.16 722.06L679.56 719.11" fill="none"/><rect x="696.7" y="691.55" width="3.4" height="3.4" stroke="none"/></g>
<g stroke="#148cff" fill="#148cff" stroke-width="1.75" stroke-linecap="round" stroke-linejoin="round"><path d="M698.2 694.5L690.94 723.59" fill="none"/><path d="M690.94 723.59L680.27 720.92" fill="none"/><rect x="696.7" y="692.8" width="3.4" height="3.4" stroke="none"/></g>
<g stroke="#148cff" fill="#148cff" stroke-width="1.75" stroke-linecap="round" stroke-linejoin="round"><path d="M698.2 695.75L691.73 725.11" fill="none"/><path d="M691.73 725.11L680.99 722.74" fill="none"/><rect x="696.7" y="694.05" width="3.4" height="3.4" stroke="none"/></g>
<g stroke="#148cff" fill="#148cff" stroke-width="1.75" stroke-linecap="round" stroke-linejoin="round"><path d="M698.2 697L692.51 726.63" fill="none"/><path d="M692.51 726.63L681.71 724.56" fill="none"/><rect x="696.7" y="695.3" width="3.4" height="3.4" stroke="none"/></g>
<g stroke="#148cff" fill="#148cff" stroke-width="1.75" stroke-linecap="round" stroke-linejoin="round"><path d="M698.2 698.25L693.3 728.15" fill="none"/><path d="M693.3 728.15L682.44 726.37" fill="none"/><rect x="696.7" y="696.55" width="3.4" height="3.4" stroke="none"/></g>
<g stroke="#148cff" fill="#148cff" stroke-width="1.75" stroke-linecap="round" stroke-linejoin="round"><path d="M698.2 699.5L694.09 729.67" fill="none"/><path d="M694.09 729.67L683.19 728.19" fill="none"/><rect x="696.7" y="697.8" width="3.4" height="3.4" stroke="none"/></g>
<g stroke="#148cff" fill="#148cff" stroke-width="1.75" stroke-linecap="round" stroke-linejoin="round"><path d="M698.2 700.75L694.87 731.19" fill="none"/><path d="M694.87 731.19L683.94 730" fill="none"/><rect x="696.7" y="699.05" width="3.4" height="3.4" stroke="none"/></g>
<g stroke="#148cff" fill="#148cff" stroke-width="1.75" stroke-linecap="round" stroke-linejoin="round"><path d="M698.2 702L695.66 732.71" fill="none"/><path d="M695.66 732.71L684.69 731.81" fill="none"/><rect x="696.7" y="700.3" width="3.4" height="3.4" stroke="none"/></g>
<g stroke="#148cff" fill="#148cff" stroke-width="1.75" stroke-linecap="round" stroke-linejoin="round"><path d="M698.2 703.25L696.44 734.24" fill="none"/><path d="M696.44 734.24L685.46 733.61" fill="none"/><rect x="696.7" y="701.55" width="3.4" height="3.4" stroke="none"/></g>
<g stroke="#148cff" fill="#148cff" stroke-width="1.75" stroke-linecap="round" stroke-linejoin="round"><path d="M698.2 704.5L697.23 735.76" fill="none"/><path d="M697.23 735.76L686.23 735.42" fill="none"/><rect x="696.7" y="702.8" width="3.4" height="3.4" stroke="none"/></g>
<g stroke="#148cff" fill="#148cff" stroke-width="1.75" stroke-linecap="round" stroke-linejoin="round"><path d="M698.2 705.75L698.01 737.28" fill="none"/><path d="M698.01 737.28L687.01 737.21" fill="none"/><rect x="696.7" y="704.05" width="3.4" height="3.4" stroke="none"/></g>
<g stroke="#148cff" fill="#148cff" stroke-width="1.75" stroke-linecap="round" stroke-linejoin="round"><path d="M698.2 707L698.8 738.8" fill="none"/><path d="M698.8 738.8L687.8 739.01" fill="none"/><rect x="696.7" y="705.3" width="3.4" height="3.4" stroke="none"/></g>
<g stroke="#148cff" fill="#148cff" stroke-width="1.75" stroke-linecap="round" stroke-linejoin="round"><path d="M698.2 708.5L701 741" fill="none"/><path d="M701 741L690.04 741.94" fill="none"/><rect x="696.7" y="706.8" width="3.4" height="3.4" stroke="none"/></g>
<g stroke="#148cff" fill="#148cff" stroke-width="1.75" stroke-linecap="round" stroke-linejoin="round"><path d="M698.2 709.7L704.6 741" fill="none"/><path d="M704.6 741L693.82 743.2" fill="none"/><rect x="696.7" y="708" width="3.4" height="3.4" stroke="none"/></g>
</svg>
</body></html>
